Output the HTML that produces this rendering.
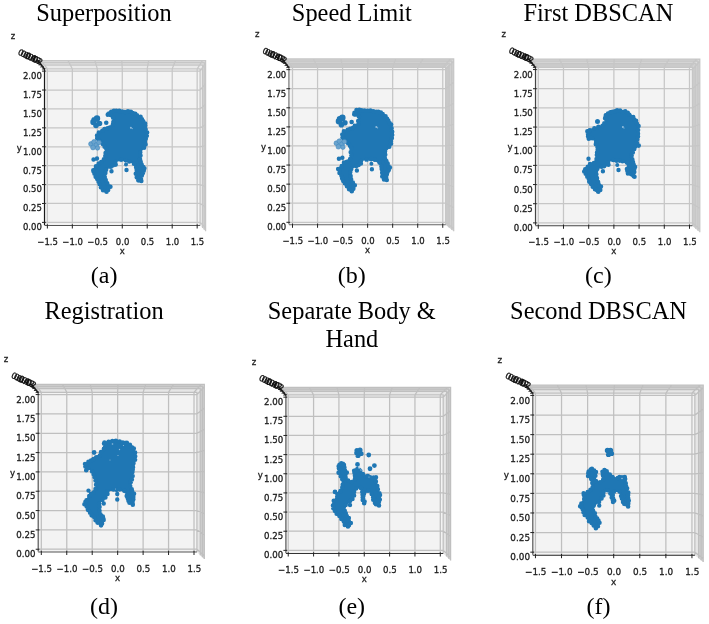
<!DOCTYPE html>
<html><head><meta charset="utf-8"><title>Point cloud processing stages</title>
<style>html,body{margin:0;padding:0;background:#fff;}svg{display:block;}</style></head>
<body>
<svg width="709" height="624" viewBox="0 0 709 624"><rect x="44.5" y="68.81" width="155.57" height="156.69" fill="#f3f3f3"/>
<polygon points="44.5,68.81 41.58,65.12 202.56,65.12 200.07,68.81" fill="#eaeaea"/>
<polygon points="200.07,68.81 202.56,65.12 202.56,228.06 200.07,225.5" fill="#eaeaea"/>
<polygon points="41.58,65.12 38,60.6 205.6,60.6 202.56,65.12" fill="#dcdcdc"/>
<polygon points="202.56,65.12 205.6,60.6 205.6,231.2 202.56,228.06" fill="#dcdcdc"/>
<path d="M47.36 225.5V68.81L41.08 60.6 M72.33 225.5V68.81L67.98 60.6 M97.3 225.5V68.81L94.88 60.6 M122.27 225.5V68.81L121.78 60.6 M147.23 225.5V68.81L148.68 60.6 M172.2 225.5V68.81L175.58 60.6 M197.17 225.5V68.81L202.48 60.6 M44.5 222.39H200.07L205.6 227.81 M44.5 203.48H200.07L205.6 207.23 M44.5 184.57H200.07L205.6 186.64 M44.5 165.66H200.07L205.6 166.05 M44.5 146.75H200.07L205.6 145.46 M44.5 127.84H200.07L205.6 124.87 M44.5 108.93H200.07L205.6 104.28 M44.5 90.02H200.07L205.6 83.69 M44.5 71.11H200.07L205.6 63.1 M44.5 68.81H200.07V225.5 M41.58 65.12H202.56V228.06 M39.62 62.65H204.22V229.77 M38 60.6H205.6V231.2" stroke="#c6c6c6" stroke-width="1.25" fill="none"/>
<rect x="288.9" y="67.35" width="156.75" height="157.45" fill="#f3f3f3"/>
<polygon points="288.9,67.35 285.84,63.55 449.27,63.55 445.65,67.35" fill="#c9c9c9"/>
<polygon points="445.65,67.35 449.27,63.55 449.27,227.73 445.65,224.8" fill="#c9c9c9"/>
<polygon points="285.84,63.55 282.1,58.9 453.7,58.9 449.27,63.55" fill="#d0d0d0"/>
<polygon points="449.27,63.55 453.7,58.9 453.7,231.3 449.27,227.73" fill="#d0d0d0"/>
<path d="M292.51 224.8V67.35L286.05 58.9 M317.55 224.8V67.35L313.46 58.9 M342.59 224.8V67.35L340.88 58.9 M367.63 224.8V67.35L368.29 58.9 M392.67 224.8V67.35L395.7 58.9 M417.71 224.8V67.35L423.11 58.9 M442.75 224.8V67.35L450.53 58.9 M288.9 222.31H445.65L453.7 228.57 M288.9 203.23H445.65L453.7 207.68 M288.9 184.15H445.65L453.7 186.78 M288.9 165.06H445.65L453.7 165.89 M288.9 145.98H445.65L453.7 145 M288.9 126.9H445.65L453.7 124.1 M288.9 107.81H445.65L453.7 103.21 M288.9 88.73H445.65L453.7 82.31 M288.9 69.65H445.65L453.7 61.42 M288.9 67.35H445.65V224.8 M285.84 63.55H449.27V227.73 M283.8 61.01H451.69V229.68 M282.1 58.9H453.7V231.3" stroke="#c6c6c6" stroke-width="1.25" fill="none"/>
<rect x="535.5" y="67.25" width="156.89" height="158.55" fill="#f3f3f3"/>
<polygon points="535.5,67.25 532.44,63.54 695.72,63.54 692.39,67.25" fill="#cbcbcb"/>
<polygon points="692.39,67.25 695.72,63.54 695.72,228.73 692.39,225.8" fill="#cbcbcb"/>
<polygon points="532.44,63.54 528.7,59 699.8,59 695.72,63.54" fill="#d4d4d4"/>
<polygon points="695.72,63.54 699.8,59 699.8,232.3 695.72,228.73" fill="#d4d4d4"/>
<path d="M538.29 225.8V67.25L531.74 59 M563.49 225.8V67.25L559.23 59 M588.69 225.8V67.25L586.71 59 M613.89 225.8V67.25L614.19 59 M639.09 225.8V67.25L641.67 59 M664.29 225.8V67.25L669.15 59 M689.49 225.8V67.25L696.64 59 M535.5 222.9H692.39L699.8 229.13 M535.5 203.73H692.39L699.8 208.18 M535.5 184.56H692.39L699.8 187.23 M535.5 165.39H692.39L699.8 166.27 M535.5 146.22H692.39L699.8 145.32 M535.5 127.06H692.39L699.8 124.37 M535.5 107.89H692.39L699.8 103.42 M535.5 88.72H692.39L699.8 82.47 M535.5 69.55H692.39L699.8 61.51 M535.5 67.25H692.39V225.8 M532.44 63.54H695.72V228.73 M530.4 61.06H697.95V230.68 M528.7 59H699.8V232.3" stroke="#c6c6c6" stroke-width="1.25" fill="none"/>
<rect x="38.2" y="392.28" width="158.71" height="159.72" fill="#f3f3f3"/>
<polygon points="38.2,392.28 35.14,388.73 200.24,388.73 196.91,392.28" fill="#e6e6e6"/>
<polygon points="196.91,392.28 200.24,388.73 200.24,555.15 196.91,552" fill="#e6e6e6"/>
<polygon points="35.14,388.73 31.4,384.4 204.3,384.4 200.24,388.73" fill="#cfcfcf"/>
<polygon points="200.24,388.73 204.3,384.4 204.3,559 200.24,555.15" fill="#cfcfcf"/>
<path d="M41.31 552V392.28L34.79 384.4 M66.76 552V392.28L62.51 384.4 M92.21 552V392.28L90.24 384.4 M117.66 552V392.28L117.96 384.4 M143.11 552V392.28L145.69 384.4 M168.56 552V392.28L173.42 384.4 M194.01 552V392.28L201.14 384.4 M38.2 549.24H196.91L204.3 555.98 M38.2 529.91H196.91L204.3 534.85 M38.2 510.57H196.91L204.3 513.72 M38.2 491.24H196.91L204.3 492.58 M38.2 471.91H196.91L204.3 471.45 M38.2 452.58H196.91L204.3 450.31 M38.2 433.25H196.91L204.3 429.18 M38.2 413.91H196.91L204.3 408.05 M38.2 394.58H196.91L204.3 386.91 M38.2 392.28H196.91V552 M35.14 388.73H200.24V555.15 M33.1 386.37H202.45V557.25 M31.4 384.4H204.3V559" stroke="#bfbfbf" stroke-width="1.25" fill="none"/>
<rect x="285.9" y="394.86" width="157.29" height="158.64" fill="#f3f3f3"/>
<polygon points="285.9,394.86 282.84,391.46 446.52,391.46 443.19,394.86" fill="#e6e6e6"/>
<polygon points="443.19,394.86 446.52,391.46 446.52,556.61 443.19,553.5" fill="#e6e6e6"/>
<polygon points="282.84,391.46 279.1,387.3 450.6,387.3 446.52,391.46" fill="#cfcfcf"/>
<polygon points="446.52,391.46 450.6,387.3 450.6,560.4 446.52,556.61" fill="#cfcfcf"/>
<path d="M288.24 553.5V394.86L281.65 387.3 M313.58 553.5V394.86L309.28 387.3 M338.92 553.5V394.86L336.91 387.3 M364.26 553.5V394.86L364.54 387.3 M389.61 553.5V394.86L392.18 387.3 M414.95 553.5V394.86L419.81 387.3 M440.29 553.5V394.86L447.44 387.3 M285.9 550.37H443.19L450.6 556.98 M285.9 531.22H443.19L450.6 536.09 M285.9 512.07H443.19L450.6 515.19 M285.9 492.92H443.19L450.6 494.29 M285.9 473.76H443.19L450.6 473.4 M285.9 454.61H443.19L450.6 452.5 M285.9 435.46H443.19L450.6 431.6 M285.9 416.31H443.19L450.6 410.71 M285.9 397.16H443.19L450.6 389.81 M285.9 394.86H443.19V553.5 M282.84 391.46H446.52V556.61 M280.8 389.19H448.75V558.67 M279.1 387.3H450.6V560.4" stroke="#bfbfbf" stroke-width="1.25" fill="none"/>
<rect x="532.8" y="393.12" width="162.05" height="162.08" fill="#f3f3f3"/>
<polygon points="532.8,393.12 529.74,389.56 698.61,389.56 694.85,393.12" fill="#e6e6e6"/>
<polygon points="694.85,393.12 698.61,389.56 698.61,558.26 694.85,555.2" fill="#e6e6e6"/>
<polygon points="529.74,389.56 526,385.2 703.2,385.2 698.61,389.56" fill="#cfcfcf"/>
<polygon points="698.61,389.56 703.2,385.2 703.2,562 698.61,558.26" fill="#cfcfcf"/>
<path d="M535.45 555.2V393.12L528.9 385.2 M561.53 555.2V393.12L557.42 385.2 M587.62 555.2V393.12L585.94 385.2 M613.7 555.2V393.12L614.46 385.2 M639.78 555.2V393.12L642.99 385.2 M665.87 555.2V393.12L671.51 385.2 M691.95 555.2V393.12L700.03 385.2 M532.8 552.16H694.85L703.2 558.68 M532.8 532.57H694.85L703.2 537.31 M532.8 512.98H694.85L703.2 515.94 M532.8 493.38H694.85L703.2 494.57 M532.8 473.79H694.85L703.2 473.2 M532.8 454.2H694.85L703.2 451.82 M532.8 434.61H694.85L703.2 430.45 M532.8 415.01H694.85L703.2 409.08 M532.8 395.42H694.85L703.2 387.71 M532.8 393.12H694.85V555.2 M529.74 389.56H698.61V558.26 M527.7 387.18H701.11V560.3 M526 385.2H703.2V562" stroke="#bfbfbf" stroke-width="1.25" fill="none"/>
<path d="M108.32 113.71 L109.1 112.75 L111.53 111.33 L116.55 110.59 L125.03 111.43 L133.4 112.64 L137.36 114.92 L140.22 117.22 L143.72 121.27 L145.98 125.75 L146.56 132.73 L145.92 138.81 L145.34 144.72 L143.72 147.72 L140.4 151.79 L139.68 159 L141.71 164.49 L144.07 168.94 L142.88 173.1 L140.43 177.98 L139.61 181.37 L137.79 179.94 L136.37 177 L135.83 169.82 L134.87 163.9 L129.51 161.33 L121.5 160.06 L116.56 161.1 L115.11 165.04 L110.8 167.05 L106.32 168.85 L105.27 176.43 L107.29 183.18 L109.66 187.39 L107.7 189.95 L105.25 191.91 L102.83 189.98 L99.36 184.11 L95.68 176.75 L93.31 170.9 L93.23 169.37 L95.96 166.24 L98.89 163.34 L104.11 159.99 L105.82 156.53 L105.24 152.57 L105.83 149.77 L102.98 144.16 L97.89 139.04 L96.39 137.31 L96.93 134.76 L98.99 132.26 L102.34 130.04 L107.28 128.16 L112.37 125.11 L113.84 118.41 L110.23 115.13 Z" fill="#1f77b4" stroke="#1f77b4" stroke-width="1.5" stroke-linejoin="round"/><path d="M105.49 114.65a2.3 2.3 0 1 0 4.6 0a2.3 2.3 0 1 0 -4.6 0M106.71 113.59a2.3 2.3 0 1 0 4.6 0a2.3 2.3 0 1 0 -4.6 0M108.95 111.9a2.3 2.3 0 1 0 4.6 0a2.3 2.3 0 1 0 -4.6 0M111.64 110.77a2.3 2.3 0 1 0 4.6 0a2.3 2.3 0 1 0 -4.6 0M114.01 110.69a2.3 2.3 0 1 0 4.6 0a2.3 2.3 0 1 0 -4.6 0M116.93 110.91a2.3 2.3 0 1 0 4.6 0a2.3 2.3 0 1 0 -4.6 0M119.82 111.47a2.3 2.3 0 1 0 4.6 0a2.3 2.3 0 1 0 -4.6 0M122.6 111.93a2.3 2.3 0 1 0 4.6 0a2.3 2.3 0 1 0 -4.6 0M125.66 111.4a2.3 2.3 0 1 0 4.6 0a2.3 2.3 0 1 0 -4.6 0M128.59 111.75a2.3 2.3 0 1 0 4.6 0a2.3 2.3 0 1 0 -4.6 0M130.5 113.01a2.3 2.3 0 1 0 4.6 0a2.3 2.3 0 1 0 -4.6 0M132.98 113.77a2.3 2.3 0 1 0 4.6 0a2.3 2.3 0 1 0 -4.6 0M134.64 115.21a2.3 2.3 0 1 0 4.6 0a2.3 2.3 0 1 0 -4.6 0M138.25 116.72a2.3 2.3 0 1 0 4.6 0a2.3 2.3 0 1 0 -4.6 0M139.65 119.3a2.3 2.3 0 1 0 4.6 0a2.3 2.3 0 1 0 -4.6 0M140.92 121.26a2.3 2.3 0 1 0 4.6 0a2.3 2.3 0 1 0 -4.6 0M142.79 123.45a2.3 2.3 0 1 0 4.6 0a2.3 2.3 0 1 0 -4.6 0M142.88 125.47a2.3 2.3 0 1 0 4.6 0a2.3 2.3 0 1 0 -4.6 0M143.27 129.22a2.3 2.3 0 1 0 4.6 0a2.3 2.3 0 1 0 -4.6 0M144.81 132.62a2.3 2.3 0 1 0 4.6 0a2.3 2.3 0 1 0 -4.6 0M144.49 135.74a2.3 2.3 0 1 0 4.6 0a2.3 2.3 0 1 0 -4.6 0M143.45 138.79a2.3 2.3 0 1 0 4.6 0a2.3 2.3 0 1 0 -4.6 0M142.57 141.86a2.3 2.3 0 1 0 4.6 0a2.3 2.3 0 1 0 -4.6 0M143.22 144.41a2.3 2.3 0 1 0 4.6 0a2.3 2.3 0 1 0 -4.6 0M141.76 147.75a2.3 2.3 0 1 0 4.6 0a2.3 2.3 0 1 0 -4.6 0M137.96 152.32a2.3 2.3 0 1 0 4.6 0a2.3 2.3 0 1 0 -4.6 0M138.21 155.5a2.3 2.3 0 1 0 4.6 0a2.3 2.3 0 1 0 -4.6 0M137.74 159.31a2.3 2.3 0 1 0 4.6 0a2.3 2.3 0 1 0 -4.6 0M138.4 161.91a2.3 2.3 0 1 0 4.6 0a2.3 2.3 0 1 0 -4.6 0M139.36 164.62a2.3 2.3 0 1 0 4.6 0a2.3 2.3 0 1 0 -4.6 0M140.94 166.96a2.3 2.3 0 1 0 4.6 0a2.3 2.3 0 1 0 -4.6 0M142.07 168.35a2.3 2.3 0 1 0 4.6 0a2.3 2.3 0 1 0 -4.6 0M141.44 170.86a2.3 2.3 0 1 0 4.6 0a2.3 2.3 0 1 0 -4.6 0M140.6 172.9a2.3 2.3 0 1 0 4.6 0a2.3 2.3 0 1 0 -4.6 0M139.56 175.51a2.3 2.3 0 1 0 4.6 0a2.3 2.3 0 1 0 -4.6 0M138.62 178.25a2.3 2.3 0 1 0 4.6 0a2.3 2.3 0 1 0 -4.6 0M139.02 180.92a2.3 2.3 0 1 0 4.6 0a2.3 2.3 0 1 0 -4.6 0M136.01 180.33a2.3 2.3 0 1 0 4.6 0a2.3 2.3 0 1 0 -4.6 0M134.45 177.33a2.3 2.3 0 1 0 4.6 0a2.3 2.3 0 1 0 -4.6 0M133.51 173.63a2.3 2.3 0 1 0 4.6 0a2.3 2.3 0 1 0 -4.6 0M134.33 169.68a2.3 2.3 0 1 0 4.6 0a2.3 2.3 0 1 0 -4.6 0M133.84 167.21a2.3 2.3 0 1 0 4.6 0a2.3 2.3 0 1 0 -4.6 0M131.66 163.69a2.3 2.3 0 1 0 4.6 0a2.3 2.3 0 1 0 -4.6 0M126.97 161.4a2.3 2.3 0 1 0 4.6 0a2.3 2.3 0 1 0 -4.6 0M123.31 160.26a2.3 2.3 0 1 0 4.6 0a2.3 2.3 0 1 0 -4.6 0M118.84 159.68a2.3 2.3 0 1 0 4.6 0a2.3 2.3 0 1 0 -4.6 0M113.02 161.69a2.3 2.3 0 1 0 4.6 0a2.3 2.3 0 1 0 -4.6 0M113.37 164.6a2.3 2.3 0 1 0 4.6 0a2.3 2.3 0 1 0 -4.6 0M110.62 165.34a2.3 2.3 0 1 0 4.6 0a2.3 2.3 0 1 0 -4.6 0M108.51 166.67a2.3 2.3 0 1 0 4.6 0a2.3 2.3 0 1 0 -4.6 0M103.78 169.83a2.3 2.3 0 1 0 4.6 0a2.3 2.3 0 1 0 -4.6 0M103.06 172.91a2.3 2.3 0 1 0 4.6 0a2.3 2.3 0 1 0 -4.6 0M102.42 176.97a2.3 2.3 0 1 0 4.6 0a2.3 2.3 0 1 0 -4.6 0M103.42 180.08a2.3 2.3 0 1 0 4.6 0a2.3 2.3 0 1 0 -4.6 0M104.94 183.38a2.3 2.3 0 1 0 4.6 0a2.3 2.3 0 1 0 -4.6 0M106.09 185.93a2.3 2.3 0 1 0 4.6 0a2.3 2.3 0 1 0 -4.6 0M108.12 186.78a2.3 2.3 0 1 0 4.6 0a2.3 2.3 0 1 0 -4.6 0M105.82 189.92a2.3 2.3 0 1 0 4.6 0a2.3 2.3 0 1 0 -4.6 0M104.27 191.78a2.3 2.3 0 1 0 4.6 0a2.3 2.3 0 1 0 -4.6 0M100.77 190.31a2.3 2.3 0 1 0 4.6 0a2.3 2.3 0 1 0 -4.6 0M98.61 187.35a2.3 2.3 0 1 0 4.6 0a2.3 2.3 0 1 0 -4.6 0M97.26 184.1a2.3 2.3 0 1 0 4.6 0a2.3 2.3 0 1 0 -4.6 0M96.2 181.5a2.3 2.3 0 1 0 4.6 0a2.3 2.3 0 1 0 -4.6 0M94.92 179.02a2.3 2.3 0 1 0 4.6 0a2.3 2.3 0 1 0 -4.6 0M93.35 176.84a2.3 2.3 0 1 0 4.6 0a2.3 2.3 0 1 0 -4.6 0M92.19 173.68a2.3 2.3 0 1 0 4.6 0a2.3 2.3 0 1 0 -4.6 0M91.17 171.25a2.3 2.3 0 1 0 4.6 0a2.3 2.3 0 1 0 -4.6 0M91.01 170.24a2.3 2.3 0 1 0 4.6 0a2.3 2.3 0 1 0 -4.6 0M93.69 166.41a2.3 2.3 0 1 0 4.6 0a2.3 2.3 0 1 0 -4.6 0M96.41 163.43a2.3 2.3 0 1 0 4.6 0a2.3 2.3 0 1 0 -4.6 0M98.98 161.97a2.3 2.3 0 1 0 4.6 0a2.3 2.3 0 1 0 -4.6 0M101.61 159.33a2.3 2.3 0 1 0 4.6 0a2.3 2.3 0 1 0 -4.6 0M103 156.04a2.3 2.3 0 1 0 4.6 0a2.3 2.3 0 1 0 -4.6 0M103.28 153.02a2.3 2.3 0 1 0 4.6 0a2.3 2.3 0 1 0 -4.6 0M104.03 148.77a2.3 2.3 0 1 0 4.6 0a2.3 2.3 0 1 0 -4.6 0M102.3 146.65a2.3 2.3 0 1 0 4.6 0a2.3 2.3 0 1 0 -4.6 0M100.48 143.97a2.3 2.3 0 1 0 4.6 0a2.3 2.3 0 1 0 -4.6 0M97.76 141.69a2.3 2.3 0 1 0 4.6 0a2.3 2.3 0 1 0 -4.6 0M95.76 139.07a2.3 2.3 0 1 0 4.6 0a2.3 2.3 0 1 0 -4.6 0M94.89 138.2a2.3 2.3 0 1 0 4.6 0a2.3 2.3 0 1 0 -4.6 0M94.77 135.47a2.3 2.3 0 1 0 4.6 0a2.3 2.3 0 1 0 -4.6 0M96.57 132.57a2.3 2.3 0 1 0 4.6 0a2.3 2.3 0 1 0 -4.6 0M100.07 130.7a2.3 2.3 0 1 0 4.6 0a2.3 2.3 0 1 0 -4.6 0M102.26 128.93a2.3 2.3 0 1 0 4.6 0a2.3 2.3 0 1 0 -4.6 0M105.18 128.22a2.3 2.3 0 1 0 4.6 0a2.3 2.3 0 1 0 -4.6 0M107.68 127.5a2.3 2.3 0 1 0 4.6 0a2.3 2.3 0 1 0 -4.6 0M110.61 124.48a2.3 2.3 0 1 0 4.6 0a2.3 2.3 0 1 0 -4.6 0M111.05 121.94a2.3 2.3 0 1 0 4.6 0a2.3 2.3 0 1 0 -4.6 0M110.82 117.73a2.3 2.3 0 1 0 4.6 0a2.3 2.3 0 1 0 -4.6 0M108.13 115.07a2.3 2.3 0 1 0 4.6 0a2.3 2.3 0 1 0 -4.6 0M90.3 122a3.2 3.2 0 1 0 6.4 0a3.2 3.2 0 1 0 -6.4 0M93.8 118.5a3.2 3.2 0 1 0 6.4 0a3.2 3.2 0 1 0 -6.4 0M96.7 123.5a2.8 2.8 0 1 0 5.6 0a2.8 2.8 0 1 0 -5.6 0M93.2 125.5a2.8 2.8 0 1 0 5.6 0a2.8 2.8 0 1 0 -5.6 0M91.4 119.5a2.6 2.6 0 1 0 5.2 0a2.6 2.6 0 1 0 -5.2 0M103.95 122.75a2.3 2.3 0 1 0 4.6 0a2.3 2.3 0 1 0 -4.6 0M109.3 171.25a2.2 2.2 0 1 0 4.4 0a2.2 2.2 0 1 0 -4.4 0M124.3 170a2.2 2.2 0 1 0 4.4 0a2.2 2.2 0 1 0 -4.4 0M124 164.5a2 2 0 1 0 4 0a2 2 0 1 0 -4 0M91.3 159.5a2.2 2.2 0 1 0 4.4 0a2.2 2.2 0 1 0 -4.4 0M94.8 158.5a2.2 2.2 0 1 0 4.4 0a2.2 2.2 0 1 0 -4.4 0" fill="#1f77b4"/><circle cx="91" cy="144" r="2.4" fill="#6aa3cd" stroke="#3f88bf" stroke-width="0.6"/><circle cx="94" cy="142" r="2.4" fill="#6aa3cd" stroke="#3f88bf" stroke-width="0.6"/><circle cx="96.5" cy="145" r="2.4" fill="#6aa3cd" stroke="#3f88bf" stroke-width="0.6"/><circle cx="93" cy="147.5" r="2.4" fill="#6aa3cd" stroke="#3f88bf" stroke-width="0.6"/><circle cx="99" cy="142.5" r="2.3" fill="#6aa3cd" stroke="#3f88bf" stroke-width="0.6"/><circle cx="97.5" cy="148" r="2.2" fill="#6aa3cd" stroke="#3f88bf" stroke-width="0.6"/><circle cx="130.9" cy="127.75" r="1" fill="#b9d3e8" fill-opacity="0.75"/><circle cx="132.2" cy="128.6" r="0.6" fill="#b9d3e8" fill-opacity="0.75"/><circle cx="121" cy="162.5" r="0.5" fill="#b9d3e8" fill-opacity="0.75"/>
<path d="M353.72 112.91 L354.5 111.95 L356.93 110.53 L361.95 109.79 L370.43 110.63 L378.8 111.84 L382.76 114.12 L385.62 116.42 L389.12 120.47 L391.38 124.95 L391.96 131.93 L391.32 138.01 L390.74 143.92 L389.12 146.92 L385.8 150.99 L385.08 158.2 L387.11 163.69 L389.47 168.14 L388.28 172.3 L385.83 177.18 L385.01 180.57 L383.19 179.14 L381.77 176.2 L381.23 169.02 L380.27 163.1 L374.91 160.53 L366.9 159.26 L361.96 160.3 L360.51 164.24 L356.2 166.25 L351.72 168.05 L350.67 175.63 L352.69 182.38 L355.06 186.59 L353.1 189.15 L350.65 191.11 L348.23 189.18 L344.76 183.31 L341.08 175.95 L338.71 170.1 L338.63 168.57 L341.36 165.44 L344.29 162.54 L349.51 159.19 L351.22 155.73 L350.64 151.77 L351.23 148.97 L348.38 143.36 L343.29 138.24 L341.79 136.51 L342.33 133.96 L344.39 131.46 L347.74 129.24 L352.68 127.36 L357.77 124.31 L359.24 117.61 L355.63 114.33 Z" fill="#1f77b4" stroke="#1f77b4" stroke-width="1.5" stroke-linejoin="round"/><path d="M351.92 114.36a2.3 2.3 0 1 0 4.6 0a2.3 2.3 0 1 0 -4.6 0M352.18 112.91a2.3 2.3 0 1 0 4.6 0a2.3 2.3 0 1 0 -4.6 0M354.2 110.12a2.3 2.3 0 1 0 4.6 0a2.3 2.3 0 1 0 -4.6 0M357.01 109.73a2.3 2.3 0 1 0 4.6 0a2.3 2.3 0 1 0 -4.6 0M359.37 110.36a2.3 2.3 0 1 0 4.6 0a2.3 2.3 0 1 0 -4.6 0M362.3 110.51a2.3 2.3 0 1 0 4.6 0a2.3 2.3 0 1 0 -4.6 0M365.22 110.7a2.3 2.3 0 1 0 4.6 0a2.3 2.3 0 1 0 -4.6 0M368.1 110.47a2.3 2.3 0 1 0 4.6 0a2.3 2.3 0 1 0 -4.6 0M370.96 111.31a2.3 2.3 0 1 0 4.6 0a2.3 2.3 0 1 0 -4.6 0M373.87 111.75a2.3 2.3 0 1 0 4.6 0a2.3 2.3 0 1 0 -4.6 0M376.08 111.9a2.3 2.3 0 1 0 4.6 0a2.3 2.3 0 1 0 -4.6 0M378.57 112.63a2.3 2.3 0 1 0 4.6 0a2.3 2.3 0 1 0 -4.6 0M380.33 114.05a2.3 2.3 0 1 0 4.6 0a2.3 2.3 0 1 0 -4.6 0M383.23 116.28a2.3 2.3 0 1 0 4.6 0a2.3 2.3 0 1 0 -4.6 0M384.76 118.76a2.3 2.3 0 1 0 4.6 0a2.3 2.3 0 1 0 -4.6 0M385.98 120.63a2.3 2.3 0 1 0 4.6 0a2.3 2.3 0 1 0 -4.6 0M387.29 123.11a2.3 2.3 0 1 0 4.6 0a2.3 2.3 0 1 0 -4.6 0M388.84 124.62a2.3 2.3 0 1 0 4.6 0a2.3 2.3 0 1 0 -4.6 0M389.3 128.36a2.3 2.3 0 1 0 4.6 0a2.3 2.3 0 1 0 -4.6 0M389.88 131.78a2.3 2.3 0 1 0 4.6 0a2.3 2.3 0 1 0 -4.6 0M389.88 134.94a2.3 2.3 0 1 0 4.6 0a2.3 2.3 0 1 0 -4.6 0M389.56 138.07a2.3 2.3 0 1 0 4.6 0a2.3 2.3 0 1 0 -4.6 0M388.63 141.13a2.3 2.3 0 1 0 4.6 0a2.3 2.3 0 1 0 -4.6 0M388.7 143.66a2.3 2.3 0 1 0 4.6 0a2.3 2.3 0 1 0 -4.6 0M386.98 146.8a2.3 2.3 0 1 0 4.6 0a2.3 2.3 0 1 0 -4.6 0M382.71 151.46a2.3 2.3 0 1 0 4.6 0a2.3 2.3 0 1 0 -4.6 0M382.92 154.63a2.3 2.3 0 1 0 4.6 0a2.3 2.3 0 1 0 -4.6 0M382.69 158.67a2.3 2.3 0 1 0 4.6 0a2.3 2.3 0 1 0 -4.6 0M384.07 161.01a2.3 2.3 0 1 0 4.6 0a2.3 2.3 0 1 0 -4.6 0M385.35 163.53a2.3 2.3 0 1 0 4.6 0a2.3 2.3 0 1 0 -4.6 0M386.22 166.21a2.3 2.3 0 1 0 4.6 0a2.3 2.3 0 1 0 -4.6 0M387.6 167.59a2.3 2.3 0 1 0 4.6 0a2.3 2.3 0 1 0 -4.6 0M386.44 169.95a2.3 2.3 0 1 0 4.6 0a2.3 2.3 0 1 0 -4.6 0M385.33 171.76a2.3 2.3 0 1 0 4.6 0a2.3 2.3 0 1 0 -4.6 0M384.48 174.47a2.3 2.3 0 1 0 4.6 0a2.3 2.3 0 1 0 -4.6 0M383.81 177.36a2.3 2.3 0 1 0 4.6 0a2.3 2.3 0 1 0 -4.6 0M384.46 180.05a2.3 2.3 0 1 0 4.6 0a2.3 2.3 0 1 0 -4.6 0M381.71 179.38a2.3 2.3 0 1 0 4.6 0a2.3 2.3 0 1 0 -4.6 0M379.98 176.52a2.3 2.3 0 1 0 4.6 0a2.3 2.3 0 1 0 -4.6 0M379.92 172.75a2.3 2.3 0 1 0 4.6 0a2.3 2.3 0 1 0 -4.6 0M379.41 168.92a2.3 2.3 0 1 0 4.6 0a2.3 2.3 0 1 0 -4.6 0M379.14 166.42a2.3 2.3 0 1 0 4.6 0a2.3 2.3 0 1 0 -4.6 0M377.19 162.59a2.3 2.3 0 1 0 4.6 0a2.3 2.3 0 1 0 -4.6 0M372.52 159.7a2.3 2.3 0 1 0 4.6 0a2.3 2.3 0 1 0 -4.6 0M368.76 159.13a2.3 2.3 0 1 0 4.6 0a2.3 2.3 0 1 0 -4.6 0M364.37 159.64a2.3 2.3 0 1 0 4.6 0a2.3 2.3 0 1 0 -4.6 0M358.66 160.97a2.3 2.3 0 1 0 4.6 0a2.3 2.3 0 1 0 -4.6 0M358.59 163.43a2.3 2.3 0 1 0 4.6 0a2.3 2.3 0 1 0 -4.6 0M356.25 165a2.3 2.3 0 1 0 4.6 0a2.3 2.3 0 1 0 -4.6 0M353.97 166.06a2.3 2.3 0 1 0 4.6 0a2.3 2.3 0 1 0 -4.6 0M348.92 169a2.3 2.3 0 1 0 4.6 0a2.3 2.3 0 1 0 -4.6 0M347.99 172.06a2.3 2.3 0 1 0 4.6 0a2.3 2.3 0 1 0 -4.6 0M348.33 176.02a2.3 2.3 0 1 0 4.6 0a2.3 2.3 0 1 0 -4.6 0M348.84 179.28a2.3 2.3 0 1 0 4.6 0a2.3 2.3 0 1 0 -4.6 0M350.53 182.48a2.3 2.3 0 1 0 4.6 0a2.3 2.3 0 1 0 -4.6 0M351.12 185.31a2.3 2.3 0 1 0 4.6 0a2.3 2.3 0 1 0 -4.6 0M352.51 185.31a2.3 2.3 0 1 0 4.6 0a2.3 2.3 0 1 0 -4.6 0M351.05 188.87a2.3 2.3 0 1 0 4.6 0a2.3 2.3 0 1 0 -4.6 0M349.49 191.24a2.3 2.3 0 1 0 4.6 0a2.3 2.3 0 1 0 -4.6 0M346.78 189.14a2.3 2.3 0 1 0 4.6 0a2.3 2.3 0 1 0 -4.6 0M344.67 186.16a2.3 2.3 0 1 0 4.6 0a2.3 2.3 0 1 0 -4.6 0M342.58 183.33a2.3 2.3 0 1 0 4.6 0a2.3 2.3 0 1 0 -4.6 0M341 181a2.3 2.3 0 1 0 4.6 0a2.3 2.3 0 1 0 -4.6 0M339.88 178.44a2.3 2.3 0 1 0 4.6 0a2.3 2.3 0 1 0 -4.6 0M339.17 175.87a2.3 2.3 0 1 0 4.6 0a2.3 2.3 0 1 0 -4.6 0M337.23 173.02a2.3 2.3 0 1 0 4.6 0a2.3 2.3 0 1 0 -4.6 0M337.13 170.45a2.3 2.3 0 1 0 4.6 0a2.3 2.3 0 1 0 -4.6 0M335.86 168.99a2.3 2.3 0 1 0 4.6 0a2.3 2.3 0 1 0 -4.6 0M339.48 166a2.3 2.3 0 1 0 4.6 0a2.3 2.3 0 1 0 -4.6 0M341.75 162.53a2.3 2.3 0 1 0 4.6 0a2.3 2.3 0 1 0 -4.6 0M344.73 161.72a2.3 2.3 0 1 0 4.6 0a2.3 2.3 0 1 0 -4.6 0M347.86 158.95a2.3 2.3 0 1 0 4.6 0a2.3 2.3 0 1 0 -4.6 0M349.04 155.14a2.3 2.3 0 1 0 4.6 0a2.3 2.3 0 1 0 -4.6 0M348.43 152.16a2.3 2.3 0 1 0 4.6 0a2.3 2.3 0 1 0 -4.6 0M349.02 148.19a2.3 2.3 0 1 0 4.6 0a2.3 2.3 0 1 0 -4.6 0M347.69 145.86a2.3 2.3 0 1 0 4.6 0a2.3 2.3 0 1 0 -4.6 0M345.8 143.25a2.3 2.3 0 1 0 4.6 0a2.3 2.3 0 1 0 -4.6 0M343.19 140.86a2.3 2.3 0 1 0 4.6 0a2.3 2.3 0 1 0 -4.6 0M341.17 138.26a2.3 2.3 0 1 0 4.6 0a2.3 2.3 0 1 0 -4.6 0M340.23 137.39a2.3 2.3 0 1 0 4.6 0a2.3 2.3 0 1 0 -4.6 0M340.01 134.54a2.3 2.3 0 1 0 4.6 0a2.3 2.3 0 1 0 -4.6 0M341.6 131.23a2.3 2.3 0 1 0 4.6 0a2.3 2.3 0 1 0 -4.6 0M345.45 129.85a2.3 2.3 0 1 0 4.6 0a2.3 2.3 0 1 0 -4.6 0M347.91 128.77a2.3 2.3 0 1 0 4.6 0a2.3 2.3 0 1 0 -4.6 0M350.85 127.9a2.3 2.3 0 1 0 4.6 0a2.3 2.3 0 1 0 -4.6 0M352.55 125.77a2.3 2.3 0 1 0 4.6 0a2.3 2.3 0 1 0 -4.6 0M356.23 123.74a2.3 2.3 0 1 0 4.6 0a2.3 2.3 0 1 0 -4.6 0M355.9 121.01a2.3 2.3 0 1 0 4.6 0a2.3 2.3 0 1 0 -4.6 0M356.56 116.51a2.3 2.3 0 1 0 4.6 0a2.3 2.3 0 1 0 -4.6 0M353.26 114.54a2.3 2.3 0 1 0 4.6 0a2.3 2.3 0 1 0 -4.6 0M335.7 121.2a3.2 3.2 0 1 0 6.4 0a3.2 3.2 0 1 0 -6.4 0M339.2 117.7a3.2 3.2 0 1 0 6.4 0a3.2 3.2 0 1 0 -6.4 0M342.1 122.7a2.8 2.8 0 1 0 5.6 0a2.8 2.8 0 1 0 -5.6 0M338.6 124.7a2.8 2.8 0 1 0 5.6 0a2.8 2.8 0 1 0 -5.6 0M336.8 118.7a2.6 2.6 0 1 0 5.2 0a2.6 2.6 0 1 0 -5.2 0M349.35 121.95a2.3 2.3 0 1 0 4.6 0a2.3 2.3 0 1 0 -4.6 0M354.7 170.45a2.2 2.2 0 1 0 4.4 0a2.2 2.2 0 1 0 -4.4 0M369.7 169.2a2.2 2.2 0 1 0 4.4 0a2.2 2.2 0 1 0 -4.4 0M369.4 163.7a2 2 0 1 0 4 0a2 2 0 1 0 -4 0M336.7 158.7a2.2 2.2 0 1 0 4.4 0a2.2 2.2 0 1 0 -4.4 0M340.2 157.7a2.2 2.2 0 1 0 4.4 0a2.2 2.2 0 1 0 -4.4 0" fill="#1f77b4"/><circle cx="336.4" cy="143.2" r="2.4" fill="#6aa3cd" stroke="#3f88bf" stroke-width="0.6"/><circle cx="339.4" cy="141.2" r="2.4" fill="#6aa3cd" stroke="#3f88bf" stroke-width="0.6"/><circle cx="341.9" cy="144.2" r="2.4" fill="#6aa3cd" stroke="#3f88bf" stroke-width="0.6"/><circle cx="338.4" cy="146.7" r="2.4" fill="#6aa3cd" stroke="#3f88bf" stroke-width="0.6"/><circle cx="344.4" cy="141.7" r="2.3" fill="#6aa3cd" stroke="#3f88bf" stroke-width="0.6"/><circle cx="342.9" cy="147.2" r="2.2" fill="#6aa3cd" stroke="#3f88bf" stroke-width="0.6"/><circle cx="376.3" cy="126.95" r="1" fill="#b9d3e8" fill-opacity="0.75"/><circle cx="377.6" cy="127.8" r="0.6" fill="#b9d3e8" fill-opacity="0.75"/><circle cx="366.4" cy="161.7" r="0.5" fill="#b9d3e8" fill-opacity="0.75"/>
<path d="M606.27 115.04 L608.24 113.3 L612.73 111.38 L617.26 110.84 L625.44 111.75 L629.96 114.27 L633.4 117.15 L636.28 121.12 L638.2 126.27 L638.56 133.91 L637.29 142.4 L637.04 146.12 L636.67 145.75 L632.33 151.99 L632.29 159.08 L634.27 164.37 L635.41 167.57 L634.21 172.05 L633.24 176.44 L632.97 176.91 L630.89 174.81 L628.15 172.76 L627.24 168.68 L627.64 164.16 L622.8 161.34 L613.48 160.06 L608.46 161.19 L607.66 165.11 L604.16 166.36 L598.47 168.08 L596.66 173.72 L598.65 181.82 L601.06 187.42 L599.67 189.98 L596.77 191.92 L594.27 189.37 L590.69 184.07 L587.08 176.75 L584.73 171.05 L585.14 168.34 L587.71 165.87 L593.36 162.72 L596.38 159.6 L597.23 155.16 L597.24 149.88 L596.48 144.36 L595.73 143.14 L593.27 138.07 L588.2 138.02 L587.37 136 L587.23 133.19 L587.79 130.68 L589.92 129.39 L594.43 128.39 L598.47 127.35 L602.15 125.88 L604.63 123.76 L606.44 120.04 L605.24 117.43 Z" fill="#1f77b4" stroke="#1f77b4" stroke-width="1.5" stroke-linejoin="round"/><path d="M603.51 115.18a2.3 2.3 0 1 0 4.6 0a2.3 2.3 0 1 0 -4.6 0M605.75 113.6a2.3 2.3 0 1 0 4.6 0a2.3 2.3 0 1 0 -4.6 0M608.15 112.3a2.3 2.3 0 1 0 4.6 0a2.3 2.3 0 1 0 -4.6 0M610.2 111.69a2.3 2.3 0 1 0 4.6 0a2.3 2.3 0 1 0 -4.6 0M612.7 111.42a2.3 2.3 0 1 0 4.6 0a2.3 2.3 0 1 0 -4.6 0M614.8 110.34a2.3 2.3 0 1 0 4.6 0a2.3 2.3 0 1 0 -4.6 0M617.72 110.6a2.3 2.3 0 1 0 4.6 0a2.3 2.3 0 1 0 -4.6 0M620.51 112.08a2.3 2.3 0 1 0 4.6 0a2.3 2.3 0 1 0 -4.6 0M622.92 111.42a2.3 2.3 0 1 0 4.6 0a2.3 2.3 0 1 0 -4.6 0M625.44 112.76a2.3 2.3 0 1 0 4.6 0a2.3 2.3 0 1 0 -4.6 0M627 114.78a2.3 2.3 0 1 0 4.6 0a2.3 2.3 0 1 0 -4.6 0M630.9 117.02a2.3 2.3 0 1 0 4.6 0a2.3 2.3 0 1 0 -4.6 0M632.06 119.5a2.3 2.3 0 1 0 4.6 0a2.3 2.3 0 1 0 -4.6 0M633.8 120.92a2.3 2.3 0 1 0 4.6 0a2.3 2.3 0 1 0 -4.6 0M634.63 123.82a2.3 2.3 0 1 0 4.6 0a2.3 2.3 0 1 0 -4.6 0M636.24 125.97a2.3 2.3 0 1 0 4.6 0a2.3 2.3 0 1 0 -4.6 0M635.76 130.06a2.3 2.3 0 1 0 4.6 0a2.3 2.3 0 1 0 -4.6 0M635.66 133.64a2.3 2.3 0 1 0 4.6 0a2.3 2.3 0 1 0 -4.6 0M635.7 136.62a2.3 2.3 0 1 0 4.6 0a2.3 2.3 0 1 0 -4.6 0M634.97 139.5a2.3 2.3 0 1 0 4.6 0a2.3 2.3 0 1 0 -4.6 0M634.67 142.24a2.3 2.3 0 1 0 4.6 0a2.3 2.3 0 1 0 -4.6 0M634.89 144.94a2.3 2.3 0 1 0 4.6 0a2.3 2.3 0 1 0 -4.6 0M636.43 145.59a2.3 2.3 0 1 0 4.6 0a2.3 2.3 0 1 0 -4.6 0M633.19 146.39a2.3 2.3 0 1 0 4.6 0a2.3 2.3 0 1 0 -4.6 0M631.96 149.11a2.3 2.3 0 1 0 4.6 0a2.3 2.3 0 1 0 -4.6 0M630.5 152.5a2.3 2.3 0 1 0 4.6 0a2.3 2.3 0 1 0 -4.6 0M629.33 155.62a2.3 2.3 0 1 0 4.6 0a2.3 2.3 0 1 0 -4.6 0M630.01 159.43a2.3 2.3 0 1 0 4.6 0a2.3 2.3 0 1 0 -4.6 0M630.64 162.05a2.3 2.3 0 1 0 4.6 0a2.3 2.3 0 1 0 -4.6 0M631.34 164.54a2.3 2.3 0 1 0 4.6 0a2.3 2.3 0 1 0 -4.6 0M632.76 166.95a2.3 2.3 0 1 0 4.6 0a2.3 2.3 0 1 0 -4.6 0M631.86 169.38a2.3 2.3 0 1 0 4.6 0a2.3 2.3 0 1 0 -4.6 0M631.95 172.06a2.3 2.3 0 1 0 4.6 0a2.3 2.3 0 1 0 -4.6 0M630.77 174.42a2.3 2.3 0 1 0 4.6 0a2.3 2.3 0 1 0 -4.6 0M631.4 175.94a2.3 2.3 0 1 0 4.6 0a2.3 2.3 0 1 0 -4.6 0M632.19 176.74a2.3 2.3 0 1 0 4.6 0a2.3 2.3 0 1 0 -4.6 0M629 174.3a2.3 2.3 0 1 0 4.6 0a2.3 2.3 0 1 0 -4.6 0M625.65 173.43a2.3 2.3 0 1 0 4.6 0a2.3 2.3 0 1 0 -4.6 0M625.11 170.91a2.3 2.3 0 1 0 4.6 0a2.3 2.3 0 1 0 -4.6 0M624.64 169a2.3 2.3 0 1 0 4.6 0a2.3 2.3 0 1 0 -4.6 0M624.88 162.67a2.3 2.3 0 1 0 4.6 0a2.3 2.3 0 1 0 -4.6 0M620.2 161.25a2.3 2.3 0 1 0 4.6 0a2.3 2.3 0 1 0 -4.6 0M617.32 160.59a2.3 2.3 0 1 0 4.6 0a2.3 2.3 0 1 0 -4.6 0M614.34 160.64a2.3 2.3 0 1 0 4.6 0a2.3 2.3 0 1 0 -4.6 0M610.89 159.96a2.3 2.3 0 1 0 4.6 0a2.3 2.3 0 1 0 -4.6 0M605.68 162.19a2.3 2.3 0 1 0 4.6 0a2.3 2.3 0 1 0 -4.6 0M606.12 164.64a2.3 2.3 0 1 0 4.6 0a2.3 2.3 0 1 0 -4.6 0M601.93 166.09a2.3 2.3 0 1 0 4.6 0a2.3 2.3 0 1 0 -4.6 0M599.43 166.74a2.3 2.3 0 1 0 4.6 0a2.3 2.3 0 1 0 -4.6 0M595.03 168.7a2.3 2.3 0 1 0 4.6 0a2.3 2.3 0 1 0 -4.6 0M594.06 174.29a2.3 2.3 0 1 0 4.6 0a2.3 2.3 0 1 0 -4.6 0M594.67 178.13a2.3 2.3 0 1 0 4.6 0a2.3 2.3 0 1 0 -4.6 0M595.82 182.16a2.3 2.3 0 1 0 4.6 0a2.3 2.3 0 1 0 -4.6 0M596.9 185.36a2.3 2.3 0 1 0 4.6 0a2.3 2.3 0 1 0 -4.6 0M598.64 186.51a2.3 2.3 0 1 0 4.6 0a2.3 2.3 0 1 0 -4.6 0M597.97 189.96a2.3 2.3 0 1 0 4.6 0a2.3 2.3 0 1 0 -4.6 0M595.28 190.36a2.3 2.3 0 1 0 4.6 0a2.3 2.3 0 1 0 -4.6 0M595.99 191.77a2.3 2.3 0 1 0 4.6 0a2.3 2.3 0 1 0 -4.6 0M592.69 189.18a2.3 2.3 0 1 0 4.6 0a2.3 2.3 0 1 0 -4.6 0M590.4 186.65a2.3 2.3 0 1 0 4.6 0a2.3 2.3 0 1 0 -4.6 0M588.82 184a2.3 2.3 0 1 0 4.6 0a2.3 2.3 0 1 0 -4.6 0M586.96 181.81a2.3 2.3 0 1 0 4.6 0a2.3 2.3 0 1 0 -4.6 0M586.5 178.93a2.3 2.3 0 1 0 4.6 0a2.3 2.3 0 1 0 -4.6 0M585.01 176.74a2.3 2.3 0 1 0 4.6 0a2.3 2.3 0 1 0 -4.6 0M583.39 173.76a2.3 2.3 0 1 0 4.6 0a2.3 2.3 0 1 0 -4.6 0M581.93 171.46a2.3 2.3 0 1 0 4.6 0a2.3 2.3 0 1 0 -4.6 0M582.93 169.23a2.3 2.3 0 1 0 4.6 0a2.3 2.3 0 1 0 -4.6 0M585.59 166.71a2.3 2.3 0 1 0 4.6 0a2.3 2.3 0 1 0 -4.6 0M587.8 164.03a2.3 2.3 0 1 0 4.6 0a2.3 2.3 0 1 0 -4.6 0M591.63 162.93a2.3 2.3 0 1 0 4.6 0a2.3 2.3 0 1 0 -4.6 0M594.25 159.06a2.3 2.3 0 1 0 4.6 0a2.3 2.3 0 1 0 -4.6 0M594.57 155a2.3 2.3 0 1 0 4.6 0a2.3 2.3 0 1 0 -4.6 0M594.77 152.5a2.3 2.3 0 1 0 4.6 0a2.3 2.3 0 1 0 -4.6 0M595.41 149.7a2.3 2.3 0 1 0 4.6 0a2.3 2.3 0 1 0 -4.6 0M595.23 147.18a2.3 2.3 0 1 0 4.6 0a2.3 2.3 0 1 0 -4.6 0M593.55 144.28a2.3 2.3 0 1 0 4.6 0a2.3 2.3 0 1 0 -4.6 0M593.75 143.18a2.3 2.3 0 1 0 4.6 0a2.3 2.3 0 1 0 -4.6 0M589.95 138.28a2.3 2.3 0 1 0 4.6 0a2.3 2.3 0 1 0 -4.6 0M587.45 137.34a2.3 2.3 0 1 0 4.6 0a2.3 2.3 0 1 0 -4.6 0M586.47 138.79a2.3 2.3 0 1 0 4.6 0a2.3 2.3 0 1 0 -4.6 0M585.78 136.36a2.3 2.3 0 1 0 4.6 0a2.3 2.3 0 1 0 -4.6 0M585.64 133.67a2.3 2.3 0 1 0 4.6 0a2.3 2.3 0 1 0 -4.6 0M585.08 131.24a2.3 2.3 0 1 0 4.6 0a2.3 2.3 0 1 0 -4.6 0M587.49 130.29a2.3 2.3 0 1 0 4.6 0a2.3 2.3 0 1 0 -4.6 0M592.12 128.24a2.3 2.3 0 1 0 4.6 0a2.3 2.3 0 1 0 -4.6 0M596.1 126.87a2.3 2.3 0 1 0 4.6 0a2.3 2.3 0 1 0 -4.6 0M600.26 125.9a2.3 2.3 0 1 0 4.6 0a2.3 2.3 0 1 0 -4.6 0M602.04 123.22a2.3 2.3 0 1 0 4.6 0a2.3 2.3 0 1 0 -4.6 0M603.68 119.34a2.3 2.3 0 1 0 4.6 0a2.3 2.3 0 1 0 -4.6 0M602.8 118.16a2.3 2.3 0 1 0 4.6 0a2.3 2.3 0 1 0 -4.6 0M595 121.6a2.5 2.5 0 1 0 5 0a2.5 2.5 0 1 0 -5 0M616.3 170a2.2 2.2 0 1 0 4.4 0a2.2 2.2 0 1 0 -4.4 0M615.25 165a2 2 0 1 0 4 0a2 2 0 1 0 -4 0M600.7 171.25a2.2 2.2 0 1 0 4.4 0a2.2 2.2 0 1 0 -4.4 0M586.3 158.75a2.2 2.2 0 1 0 4.4 0a2.2 2.2 0 1 0 -4.4 0" fill="#1f77b4"/><circle cx="622.9" cy="127.1" r="1" fill="#b9d3e8" fill-opacity="0.75"/><circle cx="624" cy="128" r="0.6" fill="#b9d3e8" fill-opacity="0.75"/>
<path d="M104.57 443.27 L105.05 442.83 L108.83 441.81 L116 441.24 L123.2 441.82 L127.59 442.85 L129.7 445.05 L133.81 449.03 L134.78 452.74 L134.77 459.85 L133.58 467.24 L132.93 472.23 L131.7 479.63 L130.42 485.2 L132.38 489.39 L133.57 493.98 L133.59 499.67 L132.06 503.85 L131.69 504.41 L129.73 502.38 L127.6 500.34 L126.55 495.87 L125.38 491.18 L119.88 490.06 L113.5 490.06 L108.59 490.47 L107.4 494.29 L105.21 497.54 L99.32 503 L99.21 510.42 L102.38 516.89 L103.59 520.94 L101.63 523.67 L99.89 525.07 L97.34 522.49 L93.72 517.65 L90.03 512.72 L86.37 506.62 L84.74 503.65 L86.34 499.67 L89.34 496.14 L91.1 493.75 L95.7 489.66 L96.59 485 L95.85 480.68 L93.98 476.87 L92.6 471.59 L89.07 468.25 L85.74 469.05 L85.34 466.17 L85.72 463.97 L88.39 461.45 L93.18 458.49 L99.06 455.18 L103.94 449.48 Z" fill="#1f77b4" stroke="#1f77b4" stroke-width="1.5" stroke-linejoin="round"/><path d="M101.74 443.6a2.3 2.3 0 1 0 4.6 0a2.3 2.3 0 1 0 -4.6 0M102.18 442.6a2.3 2.3 0 1 0 4.6 0a2.3 2.3 0 1 0 -4.6 0M106.34 441.8a2.3 2.3 0 1 0 4.6 0a2.3 2.3 0 1 0 -4.6 0M110.07 441.17a2.3 2.3 0 1 0 4.6 0a2.3 2.3 0 1 0 -4.6 0M113.59 440.74a2.3 2.3 0 1 0 4.6 0a2.3 2.3 0 1 0 -4.6 0M117.31 441.51a2.3 2.3 0 1 0 4.6 0a2.3 2.3 0 1 0 -4.6 0M120.58 442.46a2.3 2.3 0 1 0 4.6 0a2.3 2.3 0 1 0 -4.6 0M123.12 442.93a2.3 2.3 0 1 0 4.6 0a2.3 2.3 0 1 0 -4.6 0M124.56 442.89a2.3 2.3 0 1 0 4.6 0a2.3 2.3 0 1 0 -4.6 0M127.6 444.86a2.3 2.3 0 1 0 4.6 0a2.3 2.3 0 1 0 -4.6 0M129.49 447.35a2.3 2.3 0 1 0 4.6 0a2.3 2.3 0 1 0 -4.6 0M131.52 448.53a2.3 2.3 0 1 0 4.6 0a2.3 2.3 0 1 0 -4.6 0M132.8 452.5a2.3 2.3 0 1 0 4.6 0a2.3 2.3 0 1 0 -4.6 0M132.9 456.25a2.3 2.3 0 1 0 4.6 0a2.3 2.3 0 1 0 -4.6 0M132.76 459.75a2.3 2.3 0 1 0 4.6 0a2.3 2.3 0 1 0 -4.6 0M131.18 463.35a2.3 2.3 0 1 0 4.6 0a2.3 2.3 0 1 0 -4.6 0M130.7 467.19a2.3 2.3 0 1 0 4.6 0a2.3 2.3 0 1 0 -4.6 0M130.41 469.69a2.3 2.3 0 1 0 4.6 0a2.3 2.3 0 1 0 -4.6 0M130.11 472.11a2.3 2.3 0 1 0 4.6 0a2.3 2.3 0 1 0 -4.6 0M130.32 476a2.3 2.3 0 1 0 4.6 0a2.3 2.3 0 1 0 -4.6 0M129.56 479.59a2.3 2.3 0 1 0 4.6 0a2.3 2.3 0 1 0 -4.6 0M128.51 481.98a2.3 2.3 0 1 0 4.6 0a2.3 2.3 0 1 0 -4.6 0M127.91 486.01a2.3 2.3 0 1 0 4.6 0a2.3 2.3 0 1 0 -4.6 0M129.43 489.37a2.3 2.3 0 1 0 4.6 0a2.3 2.3 0 1 0 -4.6 0M130.04 491.88a2.3 2.3 0 1 0 4.6 0a2.3 2.3 0 1 0 -4.6 0M131.72 493.75a2.3 2.3 0 1 0 4.6 0a2.3 2.3 0 1 0 -4.6 0M131 496.88a2.3 2.3 0 1 0 4.6 0a2.3 2.3 0 1 0 -4.6 0M131.05 499.22a2.3 2.3 0 1 0 4.6 0a2.3 2.3 0 1 0 -4.6 0M130.31 501.8a2.3 2.3 0 1 0 4.6 0a2.3 2.3 0 1 0 -4.6 0M130.37 503.74a2.3 2.3 0 1 0 4.6 0a2.3 2.3 0 1 0 -4.6 0M130.5 504.76a2.3 2.3 0 1 0 4.6 0a2.3 2.3 0 1 0 -4.6 0M127.18 502.77a2.3 2.3 0 1 0 4.6 0a2.3 2.3 0 1 0 -4.6 0M126.19 500.63a2.3 2.3 0 1 0 4.6 0a2.3 2.3 0 1 0 -4.6 0M125.47 498.15a2.3 2.3 0 1 0 4.6 0a2.3 2.3 0 1 0 -4.6 0M124.44 495.9a2.3 2.3 0 1 0 4.6 0a2.3 2.3 0 1 0 -4.6 0M122.03 490.84a2.3 2.3 0 1 0 4.6 0a2.3 2.3 0 1 0 -4.6 0M117.45 489.37a2.3 2.3 0 1 0 4.6 0a2.3 2.3 0 1 0 -4.6 0M114.33 489.84a2.3 2.3 0 1 0 4.6 0a2.3 2.3 0 1 0 -4.6 0M111.2 489.41a2.3 2.3 0 1 0 4.6 0a2.3 2.3 0 1 0 -4.6 0M105.06 491.4a2.3 2.3 0 1 0 4.6 0a2.3 2.3 0 1 0 -4.6 0M105.16 493.91a2.3 2.3 0 1 0 4.6 0a2.3 2.3 0 1 0 -4.6 0M103.08 497.38a2.3 2.3 0 1 0 4.6 0a2.3 2.3 0 1 0 -4.6 0M100.11 499.69a2.3 2.3 0 1 0 4.6 0a2.3 2.3 0 1 0 -4.6 0M96.84 503.75a2.3 2.3 0 1 0 4.6 0a2.3 2.3 0 1 0 -4.6 0M97.22 506.88a2.3 2.3 0 1 0 4.6 0a2.3 2.3 0 1 0 -4.6 0M97.19 510.75a2.3 2.3 0 1 0 4.6 0a2.3 2.3 0 1 0 -4.6 0M98.11 514.19a2.3 2.3 0 1 0 4.6 0a2.3 2.3 0 1 0 -4.6 0M100.53 516.58a2.3 2.3 0 1 0 4.6 0a2.3 2.3 0 1 0 -4.6 0M101.17 519.08a2.3 2.3 0 1 0 4.6 0a2.3 2.3 0 1 0 -4.6 0M101.33 520.07a2.3 2.3 0 1 0 4.6 0a2.3 2.3 0 1 0 -4.6 0M99.75 523.59a2.3 2.3 0 1 0 4.6 0a2.3 2.3 0 1 0 -4.6 0M98.74 525.37a2.3 2.3 0 1 0 4.6 0a2.3 2.3 0 1 0 -4.6 0M95.23 522.6a2.3 2.3 0 1 0 4.6 0a2.3 2.3 0 1 0 -4.6 0M93.21 520.21a2.3 2.3 0 1 0 4.6 0a2.3 2.3 0 1 0 -4.6 0M92.07 517.16a2.3 2.3 0 1 0 4.6 0a2.3 2.3 0 1 0 -4.6 0M89.3 515.33a2.3 2.3 0 1 0 4.6 0a2.3 2.3 0 1 0 -4.6 0M87.77 512.81a2.3 2.3 0 1 0 4.6 0a2.3 2.3 0 1 0 -4.6 0M85.64 509.83a2.3 2.3 0 1 0 4.6 0a2.3 2.3 0 1 0 -4.6 0M84.37 506.55a2.3 2.3 0 1 0 4.6 0a2.3 2.3 0 1 0 -4.6 0M82.14 504.32a2.3 2.3 0 1 0 4.6 0a2.3 2.3 0 1 0 -4.6 0M83.17 501.86a2.3 2.3 0 1 0 4.6 0a2.3 2.3 0 1 0 -4.6 0M84.21 500.23a2.3 2.3 0 1 0 4.6 0a2.3 2.3 0 1 0 -4.6 0M86.97 496.01a2.3 2.3 0 1 0 4.6 0a2.3 2.3 0 1 0 -4.6 0M88.78 494.04a2.3 2.3 0 1 0 4.6 0a2.3 2.3 0 1 0 -4.6 0M91.27 492.53a2.3 2.3 0 1 0 4.6 0a2.3 2.3 0 1 0 -4.6 0M93.18 488.99a2.3 2.3 0 1 0 4.6 0a2.3 2.3 0 1 0 -4.6 0M93.77 484.77a2.3 2.3 0 1 0 4.6 0a2.3 2.3 0 1 0 -4.6 0M93.21 480.55a2.3 2.3 0 1 0 4.6 0a2.3 2.3 0 1 0 -4.6 0M92.21 476.94a2.3 2.3 0 1 0 4.6 0a2.3 2.3 0 1 0 -4.6 0M91.38 474.49a2.3 2.3 0 1 0 4.6 0a2.3 2.3 0 1 0 -4.6 0M89.82 471.38a2.3 2.3 0 1 0 4.6 0a2.3 2.3 0 1 0 -4.6 0M85.93 468.3a2.3 2.3 0 1 0 4.6 0a2.3 2.3 0 1 0 -4.6 0M83.9 470.18a2.3 2.3 0 1 0 4.6 0a2.3 2.3 0 1 0 -4.6 0M83.06 466.61a2.3 2.3 0 1 0 4.6 0a2.3 2.3 0 1 0 -4.6 0M82.72 464.04a2.3 2.3 0 1 0 4.6 0a2.3 2.3 0 1 0 -4.6 0M86.13 461.9a2.3 2.3 0 1 0 4.6 0a2.3 2.3 0 1 0 -4.6 0M88.77 460.58a2.3 2.3 0 1 0 4.6 0a2.3 2.3 0 1 0 -4.6 0M91.21 459.16a2.3 2.3 0 1 0 4.6 0a2.3 2.3 0 1 0 -4.6 0M93.89 457.32a2.3 2.3 0 1 0 4.6 0a2.3 2.3 0 1 0 -4.6 0M97.56 455.46a2.3 2.3 0 1 0 4.6 0a2.3 2.3 0 1 0 -4.6 0M98.74 452.09a2.3 2.3 0 1 0 4.6 0a2.3 2.3 0 1 0 -4.6 0M101.6 448.92a2.3 2.3 0 1 0 4.6 0a2.3 2.3 0 1 0 -4.6 0M102.87 445.89a2.3 2.3 0 1 0 4.6 0a2.3 2.3 0 1 0 -4.6 0M91.7 452.5a2.4 2.4 0 1 0 4.8 0a2.4 2.4 0 1 0 -4.8 0M115.05 494a2.2 2.2 0 1 0 4.4 0a2.2 2.2 0 1 0 -4.4 0M115.05 499.5a2.2 2.2 0 1 0 4.4 0a2.2 2.2 0 1 0 -4.4 0M101.55 503.5a2.2 2.2 0 1 0 4.4 0a2.2 2.2 0 1 0 -4.4 0M86.3 490.6a2.2 2.2 0 1 0 4.4 0a2.2 2.2 0 1 0 -4.4 0" fill="#1f77b4"/><circle cx="112.5" cy="444" r="0.8" fill="#b9d3e8" fill-opacity="0.75"/><circle cx="119.5" cy="449.5" r="0.7" fill="#b9d3e8" fill-opacity="0.75"/><circle cx="118" cy="455.5" r="0.6" fill="#b9d3e8" fill-opacity="0.75"/><circle cx="123.5" cy="445.5" r="0.6" fill="#b9d3e8" fill-opacity="0.75"/><circle cx="110" cy="460" r="0.5" fill="#b9d3e8" fill-opacity="0.75"/><circle cx="115.5" cy="489" r="0.5" fill="#b9d3e8" fill-opacity="0.75"/>
<path d="M343.61 464.11 L344.47 465.15 L345.56 469.99 L347.16 473.32 L346.16 476.47 L347.31 480.58 L350.64 482.43 L353.91 479.89 L354.64 476.05 L354.1 471.89 L354.76 470.84 L356.16 470.18 L357.99 469.34 L359.57 470.09 L360.66 470.95 L362.29 474.25 L365 476.77 L368.2 476.14 L370.28 476.51 L374.16 477.22 L375.9 478.07 L376.38 481.46 L376.81 485.93 L378.14 489.33 L379 493.39 L379.42 495.2 L379.44 499.68 L377.79 504.11 L377.25 505.68 L376.1 504.13 L373.99 502.67 L373.04 499.59 L372.26 494.2 L369.24 491.33 L364.87 492.53 L363.78 498.51 L363.62 501.88 L363.38 502.13 L363.07 499.71 L363.08 494.78 L361.44 488.85 L356.8 487.05 L354.47 492.05 L353.85 495.68 L352.2 499.01 L350.01 501.74 L346.01 504.52 L344.42 510.17 L347.1 515.82 L349.5 520.57 L350.1 523.37 L348.38 525.97 L346.79 526.34 L345.17 524.43 L341.49 518.92 L337.09 513.33 L333.57 507.97 L332.44 504.51 L334.12 500.88 L336.71 496.92 L337.25 493.32 L339.87 490.73 L342.27 487.77 L342.84 484.66 L342.34 479.81 L340.17 476.24 L339 472.41 L338.44 467.99 L338.66 465.3 L339.87 464.12 L341.53 463.84 Z" fill="#1f77b4" stroke="#1f77b4" stroke-width="1.5" stroke-linejoin="round"/><path d="M340.61 463.91a2.3 2.3 0 1 0 4.6 0a2.3 2.3 0 1 0 -4.6 0M341.57 464.83a2.3 2.3 0 1 0 4.6 0a2.3 2.3 0 1 0 -4.6 0M342.09 467.39a2.3 2.3 0 1 0 4.6 0a2.3 2.3 0 1 0 -4.6 0M342.65 470.45a2.3 2.3 0 1 0 4.6 0a2.3 2.3 0 1 0 -4.6 0M344.51 472.54a2.3 2.3 0 1 0 4.6 0a2.3 2.3 0 1 0 -4.6 0M343.24 477.16a2.3 2.3 0 1 0 4.6 0a2.3 2.3 0 1 0 -4.6 0M345.8 480.59a2.3 2.3 0 1 0 4.6 0a2.3 2.3 0 1 0 -4.6 0M349.47 482.03a2.3 2.3 0 1 0 4.6 0a2.3 2.3 0 1 0 -4.6 0M352.54 479.42a2.3 2.3 0 1 0 4.6 0a2.3 2.3 0 1 0 -4.6 0M352.65 475.76a2.3 2.3 0 1 0 4.6 0a2.3 2.3 0 1 0 -4.6 0M352.16 472.79a2.3 2.3 0 1 0 4.6 0a2.3 2.3 0 1 0 -4.6 0M351.86 470.75a2.3 2.3 0 1 0 4.6 0a2.3 2.3 0 1 0 -4.6 0M353.79 470.28a2.3 2.3 0 1 0 4.6 0a2.3 2.3 0 1 0 -4.6 0M355.11 468.99a2.3 2.3 0 1 0 4.6 0a2.3 2.3 0 1 0 -4.6 0M356.93 470.06a2.3 2.3 0 1 0 4.6 0a2.3 2.3 0 1 0 -4.6 0M357.96 470.72a2.3 2.3 0 1 0 4.6 0a2.3 2.3 0 1 0 -4.6 0M360.57 474.07a2.3 2.3 0 1 0 4.6 0a2.3 2.3 0 1 0 -4.6 0M363.61 476.5a2.3 2.3 0 1 0 4.6 0a2.3 2.3 0 1 0 -4.6 0M365.54 475.93a2.3 2.3 0 1 0 4.6 0a2.3 2.3 0 1 0 -4.6 0M367.83 477.19a2.3 2.3 0 1 0 4.6 0a2.3 2.3 0 1 0 -4.6 0M371.34 477.52a2.3 2.3 0 1 0 4.6 0a2.3 2.3 0 1 0 -4.6 0M373.65 477.28a2.3 2.3 0 1 0 4.6 0a2.3 2.3 0 1 0 -4.6 0M373.54 481.42a2.3 2.3 0 1 0 4.6 0a2.3 2.3 0 1 0 -4.6 0M374.95 486.03a2.3 2.3 0 1 0 4.6 0a2.3 2.3 0 1 0 -4.6 0M375.53 489.24a2.3 2.3 0 1 0 4.6 0a2.3 2.3 0 1 0 -4.6 0M377.1 493.31a2.3 2.3 0 1 0 4.6 0a2.3 2.3 0 1 0 -4.6 0M377.69 495a2.3 2.3 0 1 0 4.6 0a2.3 2.3 0 1 0 -4.6 0M376.48 497.5a2.3 2.3 0 1 0 4.6 0a2.3 2.3 0 1 0 -4.6 0M377.5 499.46a2.3 2.3 0 1 0 4.6 0a2.3 2.3 0 1 0 -4.6 0M376.57 501.96a2.3 2.3 0 1 0 4.6 0a2.3 2.3 0 1 0 -4.6 0M375.01 503.41a2.3 2.3 0 1 0 4.6 0a2.3 2.3 0 1 0 -4.6 0M376.7 505.53a2.3 2.3 0 1 0 4.6 0a2.3 2.3 0 1 0 -4.6 0M373.69 504.27a2.3 2.3 0 1 0 4.6 0a2.3 2.3 0 1 0 -4.6 0M372.67 502.93a2.3 2.3 0 1 0 4.6 0a2.3 2.3 0 1 0 -4.6 0M370.94 499.74a2.3 2.3 0 1 0 4.6 0a2.3 2.3 0 1 0 -4.6 0M370.81 497.22a2.3 2.3 0 1 0 4.6 0a2.3 2.3 0 1 0 -4.6 0M369.4 493.92a2.3 2.3 0 1 0 4.6 0a2.3 2.3 0 1 0 -4.6 0M365.8 490.61a2.3 2.3 0 1 0 4.6 0a2.3 2.3 0 1 0 -4.6 0M361.75 493.46a2.3 2.3 0 1 0 4.6 0a2.3 2.3 0 1 0 -4.6 0M361.04 495.91a2.3 2.3 0 1 0 4.6 0a2.3 2.3 0 1 0 -4.6 0M360.82 498.41a2.3 2.3 0 1 0 4.6 0a2.3 2.3 0 1 0 -4.6 0M362.28 501.48a2.3 2.3 0 1 0 4.6 0a2.3 2.3 0 1 0 -4.6 0M361.87 503.19a2.3 2.3 0 1 0 4.6 0a2.3 2.3 0 1 0 -4.6 0M360.44 500a2.3 2.3 0 1 0 4.6 0a2.3 2.3 0 1 0 -4.6 0M360.41 497.5a2.3 2.3 0 1 0 4.6 0a2.3 2.3 0 1 0 -4.6 0M360.26 494.67a2.3 2.3 0 1 0 4.6 0a2.3 2.3 0 1 0 -4.6 0M359.95 492.09a2.3 2.3 0 1 0 4.6 0a2.3 2.3 0 1 0 -4.6 0M358.64 488.12a2.3 2.3 0 1 0 4.6 0a2.3 2.3 0 1 0 -4.6 0M354 488.35a2.3 2.3 0 1 0 4.6 0a2.3 2.3 0 1 0 -4.6 0M351.78 492.12a2.3 2.3 0 1 0 4.6 0a2.3 2.3 0 1 0 -4.6 0M351.75 495.49a2.3 2.3 0 1 0 4.6 0a2.3 2.3 0 1 0 -4.6 0M350.14 498.94a2.3 2.3 0 1 0 4.6 0a2.3 2.3 0 1 0 -4.6 0M347.62 501.1a2.3 2.3 0 1 0 4.6 0a2.3 2.3 0 1 0 -4.6 0M343.35 505.07a2.3 2.3 0 1 0 4.6 0a2.3 2.3 0 1 0 -4.6 0M342.43 510.76a2.3 2.3 0 1 0 4.6 0a2.3 2.3 0 1 0 -4.6 0M343.47 513.36a2.3 2.3 0 1 0 4.6 0a2.3 2.3 0 1 0 -4.6 0M344.45 516a2.3 2.3 0 1 0 4.6 0a2.3 2.3 0 1 0 -4.6 0M346.51 518.1a2.3 2.3 0 1 0 4.6 0a2.3 2.3 0 1 0 -4.6 0M346.37 520.45a2.3 2.3 0 1 0 4.6 0a2.3 2.3 0 1 0 -4.6 0M348.53 523.04a2.3 2.3 0 1 0 4.6 0a2.3 2.3 0 1 0 -4.6 0M346.67 525.24a2.3 2.3 0 1 0 4.6 0a2.3 2.3 0 1 0 -4.6 0M345.67 526.38a2.3 2.3 0 1 0 4.6 0a2.3 2.3 0 1 0 -4.6 0M342.51 524.89a2.3 2.3 0 1 0 4.6 0a2.3 2.3 0 1 0 -4.6 0M341.53 521.49a2.3 2.3 0 1 0 4.6 0a2.3 2.3 0 1 0 -4.6 0M339.09 518.91a2.3 2.3 0 1 0 4.6 0a2.3 2.3 0 1 0 -4.6 0M337.12 515.92a2.3 2.3 0 1 0 4.6 0a2.3 2.3 0 1 0 -4.6 0M334.36 513.71a2.3 2.3 0 1 0 4.6 0a2.3 2.3 0 1 0 -4.6 0M332.55 510.85a2.3 2.3 0 1 0 4.6 0a2.3 2.3 0 1 0 -4.6 0M331.05 508.32a2.3 2.3 0 1 0 4.6 0a2.3 2.3 0 1 0 -4.6 0M330.68 505.43a2.3 2.3 0 1 0 4.6 0a2.3 2.3 0 1 0 -4.6 0M331.47 500.85a2.3 2.3 0 1 0 4.6 0a2.3 2.3 0 1 0 -4.6 0M334.98 496.62a2.3 2.3 0 1 0 4.6 0a2.3 2.3 0 1 0 -4.6 0M335.14 494.28a2.3 2.3 0 1 0 4.6 0a2.3 2.3 0 1 0 -4.6 0M338.17 491.16a2.3 2.3 0 1 0 4.6 0a2.3 2.3 0 1 0 -4.6 0M340.01 487.29a2.3 2.3 0 1 0 4.6 0a2.3 2.3 0 1 0 -4.6 0M340.44 484.43a2.3 2.3 0 1 0 4.6 0a2.3 2.3 0 1 0 -4.6 0M339.99 479.35a2.3 2.3 0 1 0 4.6 0a2.3 2.3 0 1 0 -4.6 0M338.44 476.31a2.3 2.3 0 1 0 4.6 0a2.3 2.3 0 1 0 -4.6 0M336.3 472.63a2.3 2.3 0 1 0 4.6 0a2.3 2.3 0 1 0 -4.6 0M336.59 468.26a2.3 2.3 0 1 0 4.6 0a2.3 2.3 0 1 0 -4.6 0M336.38 466.18a2.3 2.3 0 1 0 4.6 0a2.3 2.3 0 1 0 -4.6 0M337.18 464.91a2.3 2.3 0 1 0 4.6 0a2.3 2.3 0 1 0 -4.6 0M338.99 463.29a2.3 2.3 0 1 0 4.6 0a2.3 2.3 0 1 0 -4.6 0M354.4 450.5a2.6 2.6 0 1 0 5.2 0a2.6 2.6 0 1 0 -5.2 0M357.4 450a2.6 2.6 0 1 0 5.2 0a2.6 2.6 0 1 0 -5.2 0M358.4 453.5a2.6 2.6 0 1 0 5.2 0a2.6 2.6 0 1 0 -5.2 0M355.4 455.5a2.6 2.6 0 1 0 5.2 0a2.6 2.6 0 1 0 -5.2 0M354.1 453a2.4 2.4 0 1 0 4.8 0a2.4 2.4 0 1 0 -4.8 0M366.35 455a2.4 2.4 0 1 0 4.8 0a2.4 2.4 0 1 0 -4.8 0M355.1 464.4a2.4 2.4 0 1 0 4.8 0a2.4 2.4 0 1 0 -4.8 0M367.6 468.75a2.4 2.4 0 1 0 4.8 0a2.4 2.4 0 1 0 -4.8 0M372 465.6a2.4 2.4 0 1 0 4.8 0a2.4 2.4 0 1 0 -4.8 0M347.8 505a2.2 2.2 0 1 0 4.4 0a2.2 2.2 0 1 0 -4.4 0M332.6 491.9a2.4 2.4 0 1 0 4.8 0a2.4 2.4 0 1 0 -4.8 0" fill="#1f77b4"/><circle cx="359.2" cy="467.5" r="1.2" fill="#b9d3e8" fill-opacity="0.75"/><circle cx="361" cy="470" r="0.8" fill="#b9d3e8" fill-opacity="0.75"/><circle cx="369" cy="477" r="0.6" fill="#b9d3e8" fill-opacity="0.75"/>
<path d="M591.22 468.96 L592.96 468.88 L594.31 470.58 L595.67 472.71 L594.76 475.38 L595.63 480.26 L598.98 482.44 L602.47 480.25 L603.13 475.86 L602.44 473.52 L603.01 471.55 L604.32 470.65 L605.54 470.1 L606.77 471.37 L609.77 474.37 L612.49 476.54 L617.01 478.64 L620.05 476.76 L622.47 476.81 L624.99 477.68 L625.74 479.24 L626.08 483.15 L626.99 488.33 L627.82 492.65 L628.68 495.28 L628.68 500.95 L627.15 505.77 L626.86 506.26 L624.24 503.64 L622.14 501.66 L621.72 498.49 L620.67 492.58 L614.8 490.8 L612.46 494.58 L612.46 499.58 L612.52 500.72 L612.66 500.28 L612.25 495.67 L608.73 490.21 L604.15 491.25 L603.15 495.68 L601.51 498.92 L598.66 501.74 L594.58 505.22 L593.06 510.1 L595.76 516.43 L598.21 520.74 L599.28 523.49 L597.37 526.13 L595.08 527.57 L593.07 525.62 L589.49 520.82 L585.14 514.59 L582.15 509.78 L580.44 505.63 L581.52 503.37 L584.13 499.38 L584.49 493.4 L587.7 492.83 L590.41 489.98 L592 487.79 L592.51 483.49 L590.61 479.52 L588.24 475.61 L587.81 472.23 L588.66 470.64 Z" fill="#1f77b4" stroke="#1f77b4" stroke-width="1.5" stroke-linejoin="round"/><path d="M588.4 469.57a2.3 2.3 0 1 0 4.6 0a2.3 2.3 0 1 0 -4.6 0M589.62 468.82a2.3 2.3 0 1 0 4.6 0a2.3 2.3 0 1 0 -4.6 0M591.82 470.45a2.3 2.3 0 1 0 4.6 0a2.3 2.3 0 1 0 -4.6 0M593.65 472.03a2.3 2.3 0 1 0 4.6 0a2.3 2.3 0 1 0 -4.6 0M593.06 475.7a2.3 2.3 0 1 0 4.6 0a2.3 2.3 0 1 0 -4.6 0M593.62 481.07a2.3 2.3 0 1 0 4.6 0a2.3 2.3 0 1 0 -4.6 0M597.78 482.18a2.3 2.3 0 1 0 4.6 0a2.3 2.3 0 1 0 -4.6 0M600.9 479.58a2.3 2.3 0 1 0 4.6 0a2.3 2.3 0 1 0 -4.6 0M600.71 475.52a2.3 2.3 0 1 0 4.6 0a2.3 2.3 0 1 0 -4.6 0M600.53 474.17a2.3 2.3 0 1 0 4.6 0a2.3 2.3 0 1 0 -4.6 0M600.18 471.81a2.3 2.3 0 1 0 4.6 0a2.3 2.3 0 1 0 -4.6 0M601.87 471.28a2.3 2.3 0 1 0 4.6 0a2.3 2.3 0 1 0 -4.6 0M602.17 470.07a2.3 2.3 0 1 0 4.6 0a2.3 2.3 0 1 0 -4.6 0M604.4 471.3a2.3 2.3 0 1 0 4.6 0a2.3 2.3 0 1 0 -4.6 0M607.45 474.57a2.3 2.3 0 1 0 4.6 0a2.3 2.3 0 1 0 -4.6 0M610.17 476.95a2.3 2.3 0 1 0 4.6 0a2.3 2.3 0 1 0 -4.6 0M615.47 478.05a2.3 2.3 0 1 0 4.6 0a2.3 2.3 0 1 0 -4.6 0M617.2 477.03a2.3 2.3 0 1 0 4.6 0a2.3 2.3 0 1 0 -4.6 0M619.65 477.23a2.3 2.3 0 1 0 4.6 0a2.3 2.3 0 1 0 -4.6 0M622.47 477.07a2.3 2.3 0 1 0 4.6 0a2.3 2.3 0 1 0 -4.6 0M622.83 478.93a2.3 2.3 0 1 0 4.6 0a2.3 2.3 0 1 0 -4.6 0M623.42 483.28a2.3 2.3 0 1 0 4.6 0a2.3 2.3 0 1 0 -4.6 0M623.65 485.87a2.3 2.3 0 1 0 4.6 0a2.3 2.3 0 1 0 -4.6 0M624.81 488.32a2.3 2.3 0 1 0 4.6 0a2.3 2.3 0 1 0 -4.6 0M625.98 492.62a2.3 2.3 0 1 0 4.6 0a2.3 2.3 0 1 0 -4.6 0M625.82 495a2.3 2.3 0 1 0 4.6 0a2.3 2.3 0 1 0 -4.6 0M625.82 498.12a2.3 2.3 0 1 0 4.6 0a2.3 2.3 0 1 0 -4.6 0M626.42 500.65a2.3 2.3 0 1 0 4.6 0a2.3 2.3 0 1 0 -4.6 0M625.94 503.63a2.3 2.3 0 1 0 4.6 0a2.3 2.3 0 1 0 -4.6 0M625.47 505.62a2.3 2.3 0 1 0 4.6 0a2.3 2.3 0 1 0 -4.6 0M625.82 506.45a2.3 2.3 0 1 0 4.6 0a2.3 2.3 0 1 0 -4.6 0M621.88 503.82a2.3 2.3 0 1 0 4.6 0a2.3 2.3 0 1 0 -4.6 0M620.75 502.09a2.3 2.3 0 1 0 4.6 0a2.3 2.3 0 1 0 -4.6 0M619.66 498.48a2.3 2.3 0 1 0 4.6 0a2.3 2.3 0 1 0 -4.6 0M618.8 496.05a2.3 2.3 0 1 0 4.6 0a2.3 2.3 0 1 0 -4.6 0M617.64 491.69a2.3 2.3 0 1 0 4.6 0a2.3 2.3 0 1 0 -4.6 0M611.63 491.71a2.3 2.3 0 1 0 4.6 0a2.3 2.3 0 1 0 -4.6 0M609.39 495a2.3 2.3 0 1 0 4.6 0a2.3 2.3 0 1 0 -4.6 0M609.42 497.5a2.3 2.3 0 1 0 4.6 0a2.3 2.3 0 1 0 -4.6 0M610.18 499.12a2.3 2.3 0 1 0 4.6 0a2.3 2.3 0 1 0 -4.6 0M611.89 500.7a2.3 2.3 0 1 0 4.6 0a2.3 2.3 0 1 0 -4.6 0M611.02 500.98a2.3 2.3 0 1 0 4.6 0a2.3 2.3 0 1 0 -4.6 0M610.87 498.47a2.3 2.3 0 1 0 4.6 0a2.3 2.3 0 1 0 -4.6 0M610.47 494.94a2.3 2.3 0 1 0 4.6 0a2.3 2.3 0 1 0 -4.6 0M608.07 493.43a2.3 2.3 0 1 0 4.6 0a2.3 2.3 0 1 0 -4.6 0M605.29 490.19a2.3 2.3 0 1 0 4.6 0a2.3 2.3 0 1 0 -4.6 0M601.13 492.17a2.3 2.3 0 1 0 4.6 0a2.3 2.3 0 1 0 -4.6 0M601.1 495.49a2.3 2.3 0 1 0 4.6 0a2.3 2.3 0 1 0 -4.6 0M599.23 498.53a2.3 2.3 0 1 0 4.6 0a2.3 2.3 0 1 0 -4.6 0M596.72 502.04a2.3 2.3 0 1 0 4.6 0a2.3 2.3 0 1 0 -4.6 0M591.43 505.49a2.3 2.3 0 1 0 4.6 0a2.3 2.3 0 1 0 -4.6 0M590.78 510.81a2.3 2.3 0 1 0 4.6 0a2.3 2.3 0 1 0 -4.6 0M592.55 513.38a2.3 2.3 0 1 0 4.6 0a2.3 2.3 0 1 0 -4.6 0M593.2 516.68a2.3 2.3 0 1 0 4.6 0a2.3 2.3 0 1 0 -4.6 0M594.88 518.64a2.3 2.3 0 1 0 4.6 0a2.3 2.3 0 1 0 -4.6 0M596.14 520.47a2.3 2.3 0 1 0 4.6 0a2.3 2.3 0 1 0 -4.6 0M597.19 522.68a2.3 2.3 0 1 0 4.6 0a2.3 2.3 0 1 0 -4.6 0M595.64 526.21a2.3 2.3 0 1 0 4.6 0a2.3 2.3 0 1 0 -4.6 0M593.56 528.19a2.3 2.3 0 1 0 4.6 0a2.3 2.3 0 1 0 -4.6 0M591.42 525.42a2.3 2.3 0 1 0 4.6 0a2.3 2.3 0 1 0 -4.6 0M589.36 523.06a2.3 2.3 0 1 0 4.6 0a2.3 2.3 0 1 0 -4.6 0M586.74 521.17a2.3 2.3 0 1 0 4.6 0a2.3 2.3 0 1 0 -4.6 0M585.42 517.41a2.3 2.3 0 1 0 4.6 0a2.3 2.3 0 1 0 -4.6 0M582.39 514.93a2.3 2.3 0 1 0 4.6 0a2.3 2.3 0 1 0 -4.6 0M581.21 512.19a2.3 2.3 0 1 0 4.6 0a2.3 2.3 0 1 0 -4.6 0M580.56 509.7a2.3 2.3 0 1 0 4.6 0a2.3 2.3 0 1 0 -4.6 0M579.23 507.35a2.3 2.3 0 1 0 4.6 0a2.3 2.3 0 1 0 -4.6 0M577.85 506.25a2.3 2.3 0 1 0 4.6 0a2.3 2.3 0 1 0 -4.6 0M579.08 503.49a2.3 2.3 0 1 0 4.6 0a2.3 2.3 0 1 0 -4.6 0M581.89 498.94a2.3 2.3 0 1 0 4.6 0a2.3 2.3 0 1 0 -4.6 0M581.87 495.63a2.3 2.3 0 1 0 4.6 0a2.3 2.3 0 1 0 -4.6 0M581.47 494.77a2.3 2.3 0 1 0 4.6 0a2.3 2.3 0 1 0 -4.6 0M585.43 492.15a2.3 2.3 0 1 0 4.6 0a2.3 2.3 0 1 0 -4.6 0M588.17 489.92a2.3 2.3 0 1 0 4.6 0a2.3 2.3 0 1 0 -4.6 0M590.28 487.38a2.3 2.3 0 1 0 4.6 0a2.3 2.3 0 1 0 -4.6 0M590.02 482.99a2.3 2.3 0 1 0 4.6 0a2.3 2.3 0 1 0 -4.6 0M588.96 479.06a2.3 2.3 0 1 0 4.6 0a2.3 2.3 0 1 0 -4.6 0M585.79 476.02a2.3 2.3 0 1 0 4.6 0a2.3 2.3 0 1 0 -4.6 0M586.03 473.11a2.3 2.3 0 1 0 4.6 0a2.3 2.3 0 1 0 -4.6 0M586.36 471.5a2.3 2.3 0 1 0 4.6 0a2.3 2.3 0 1 0 -4.6 0M604.8 450.5a2.7 2.7 0 1 0 5.4 0a2.7 2.7 0 1 0 -5.4 0M607.8 450.5a2.7 2.7 0 1 0 5.4 0a2.7 2.7 0 1 0 -5.4 0M608.9 453.5a2.6 2.6 0 1 0 5.2 0a2.6 2.6 0 1 0 -5.2 0M605.9 454.5a2.6 2.6 0 1 0 5.2 0a2.6 2.6 0 1 0 -5.2 0M610.8 502a2.2 2.2 0 1 0 4.4 0a2.2 2.2 0 1 0 -4.4 0M597.05 505.6a2.2 2.2 0 1 0 4.4 0a2.2 2.2 0 1 0 -4.4 0M581.4 493.1a2.2 2.2 0 1 0 4.4 0a2.2 2.2 0 1 0 -4.4 0" fill="#1f77b4"/><circle cx="622" cy="478.5" r="0.8" fill="#b9d3e8" fill-opacity="0.75"/>
<path d="M44.5 225.5H200.07" stroke="#555" stroke-width="1.1" fill="none"/>
<path d="M47.36 224.3V228.5 M72.33 224.3V228.5 M97.3 224.3V228.5 M122.27 224.3V228.5 M147.23 224.3V228.5 M172.2 224.3V228.5 M197.17 224.3V228.5" stroke="#222" stroke-width="1" fill="none"/>
<path d="M44.5 68.81V225" stroke="#1a1a1a" stroke-width="1.2" fill="none"/>
<path d="M42 222.39H45.7 M42 203.48H45.7 M42 184.57H45.7 M42 165.66H45.7 M42 146.75H45.7 M42 127.84H45.7 M42 108.93H45.7 M42 90.02H45.7 M42 71.11H45.7" stroke="#222" stroke-width="1" fill="none"/>
<path d="M44.5 69.31L38 60.6" stroke="#1a1a1a" stroke-width="1.6" fill="none"/>
<path d="M41.9 69.11L45.3 68.51 M40.27 67.06L43.67 66.46 M38.65 65L42.05 64.41 M37.02 62.95L40.42 62.35 M35.4 60.9L38.8 60.3" stroke="#222" stroke-width="0.9" fill="none"/>
<g font-family="'DejaVu Sans', 'Liberation Sans', sans-serif" font-size="8.49" fill="#1e1e1e" stroke="#1e1e1e" stroke-width="0.3" text-anchor="middle"><text x="47.66" y="244.68">−1.5</text><text x="72.63" y="244.68">−1.0</text><text x="97.6" y="244.68">−0.5</text><text x="122.56" y="244.68">0.0</text><text x="147.53" y="244.68">0.5</text><text x="172.5" y="244.68">1.0</text><text x="197.47" y="244.68">1.5</text><text x="32.42" y="230.28">0.00</text><text x="32.42" y="211.37">0.25</text><text x="32.42" y="192.46">0.50</text><text x="32.42" y="173.55">0.75</text><text x="32.42" y="154.64">1.00</text><text x="32.42" y="135.73">1.25</text><text x="32.42" y="116.82">1.50</text><text x="32.42" y="97.91">1.75</text><text x="32.42" y="79">2.00</text><text x="122.27" y="253.76">x</text><text x="19.23" y="150.55">y</text><text x="13.04" y="38.81">z</text></g>
<g font-family="'DejaVu Sans', 'Liberation Sans', sans-serif" font-size="8.49" fill="#111" stroke="#111" stroke-width="0.25"><text x="17.33" y="54.33" transform="rotate(24 17.33 54.33)">0.04</text><text x="19.73" y="55.53" transform="rotate(24 19.73 55.53)">0.00</text><text x="22.13" y="56.73" transform="rotate(24 22.13 56.73)">0.02</text><text x="23.93" y="57.73" transform="rotate(24 23.93 57.73)">0.02</text></g>
<path d="M288.9 224.8H445.65" stroke="#666" stroke-width="1.1" fill="none"/>
<path d="M292.51 223.6V227.8 M317.55 223.6V227.8 M342.59 223.6V227.8 M367.63 223.6V227.8 M392.67 223.6V227.8 M417.71 223.6V227.8 M442.75 223.6V227.8" stroke="#222" stroke-width="1" fill="none"/>
<path d="M288.9 67.35V224.3" stroke="#777" stroke-width="1.2" fill="none"/>
<path d="M286.4 222.31H290.1 M286.4 203.23H290.1 M286.4 184.15H290.1 M286.4 165.06H290.1 M286.4 145.98H290.1 M286.4 126.9H290.1 M286.4 107.81H290.1 M286.4 88.73H290.1 M286.4 69.65H290.1" stroke="#222" stroke-width="1" fill="none"/>
<path d="M288.9 67.85L282.1 58.9" stroke="#1a1a1a" stroke-width="1.6" fill="none"/>
<path d="M286.3 67.65L289.7 67.05 M284.6 65.54L288 64.94 M282.9 63.42L286.3 62.83 M281.2 61.31L284.6 60.71 M279.5 59.2L282.9 58.6" stroke="#222" stroke-width="0.9" fill="none"/>
<g font-family="'DejaVu Sans', 'Liberation Sans', sans-serif" font-size="8.51" fill="#1e1e1e" stroke="#1e1e1e" stroke-width="0.3" text-anchor="middle"><text x="292.81" y="244.03">−1.5</text><text x="317.85" y="244.03">−1.0</text><text x="342.89" y="244.03">−0.5</text><text x="367.93" y="244.03">0.0</text><text x="392.97" y="244.03">0.5</text><text x="418.01" y="244.03">1.0</text><text x="443.05" y="244.03">1.5</text><text x="276.78" y="230.22">0.00</text><text x="276.78" y="211.14">0.25</text><text x="276.78" y="192.06">0.50</text><text x="276.78" y="172.98">0.75</text><text x="276.78" y="153.89">1.00</text><text x="276.78" y="134.81">1.25</text><text x="276.78" y="115.73">1.50</text><text x="276.78" y="96.65">1.75</text><text x="276.78" y="77.56">2.00</text><text x="367.63" y="253.15">x</text><text x="263.56" y="149.79">y</text><text x="257.35" y="37.35">z</text></g>
<g font-family="'DejaVu Sans', 'Liberation Sans', sans-serif" font-size="8.51" fill="#111" stroke="#111" stroke-width="0.25"><text x="261.66" y="52.82" transform="rotate(24 261.66 52.82)">0.04</text><text x="264.06" y="54.03" transform="rotate(24 264.06 54.03)">0.00</text><text x="266.46" y="55.23" transform="rotate(24 266.46 55.23)">0.02</text><text x="268.27" y="56.23" transform="rotate(24 268.27 56.23)">0.02</text></g>
<path d="M535.5 225.8H692.39" stroke="#444" stroke-width="1.1" fill="none"/>
<path d="M538.29 224.6V228.8 M563.49 224.6V228.8 M588.69 224.6V228.8 M613.89 224.6V228.8 M639.09 224.6V228.8 M664.29 224.6V228.8 M689.49 224.6V228.8" stroke="#222" stroke-width="1" fill="none"/>
<path d="M535.5 67.25V225.3" stroke="#444" stroke-width="1.2" fill="none"/>
<path d="M533 222.9H536.7 M533 203.73H536.7 M533 184.56H536.7 M533 165.39H536.7 M533 146.22H536.7 M533 127.06H536.7 M533 107.89H536.7 M533 88.72H536.7 M533 69.55H536.7" stroke="#222" stroke-width="1" fill="none"/>
<path d="M535.5 67.75L528.7 59" stroke="#1a1a1a" stroke-width="1.6" fill="none"/>
<path d="M532.9 67.55L536.3 66.95 M531.2 65.49L534.6 64.89 M529.5 63.42L532.9 62.83 M527.8 61.36L531.2 60.76 M526.1 59.3L529.5 58.7" stroke="#222" stroke-width="0.9" fill="none"/>
<g font-family="'DejaVu Sans', 'Liberation Sans', sans-serif" font-size="8.57" fill="#1e1e1e" stroke="#1e1e1e" stroke-width="0.3" text-anchor="middle"><text x="538.59" y="245.15">−1.5</text><text x="563.79" y="245.15">−1.0</text><text x="588.99" y="245.15">−0.5</text><text x="614.19" y="245.15">0.0</text><text x="639.39" y="245.15">0.5</text><text x="664.59" y="245.15">1.0</text><text x="689.79" y="245.15">1.5</text><text x="523.3" y="230.86">0.00</text><text x="523.3" y="211.69">0.25</text><text x="523.3" y="192.53">0.50</text><text x="523.3" y="173.36">0.75</text><text x="523.3" y="154.19">1.00</text><text x="523.3" y="135.02">1.25</text><text x="523.3" y="115.85">1.50</text><text x="523.3" y="96.68">1.75</text><text x="523.3" y="77.51">2.00</text><text x="613.89" y="254.33">x</text><text x="510" y="150.06">y</text><text x="503.75" y="37.25">z</text></g>
<g font-family="'DejaVu Sans', 'Liberation Sans', sans-serif" font-size="8.57" fill="#111" stroke="#111" stroke-width="0.25"><text x="508.08" y="52.62" transform="rotate(24 508.08 52.62)">0.04</text><text x="510.5" y="53.83" transform="rotate(24 510.5 53.83)">0.00</text><text x="512.92" y="55.03" transform="rotate(24 512.92 55.03)">0.02</text><text x="514.74" y="56.04" transform="rotate(24 514.74 56.04)">0.02</text></g>
<path d="M38.2 552H196.91" stroke="#555" stroke-width="1.1" fill="none"/>
<path d="M41.31 550.8V555 M66.76 550.8V555 M92.21 550.8V555 M117.66 550.8V555 M143.11 550.8V555 M168.56 550.8V555 M194.01 550.8V555" stroke="#222" stroke-width="1" fill="none"/>
<path d="M38.2 392.28V551.5" stroke="#555" stroke-width="1.2" fill="none"/>
<path d="M35.7 549.24H39.4 M35.7 529.91H39.4 M35.7 510.57H39.4 M35.7 491.24H39.4 M35.7 471.91H39.4 M35.7 452.58H39.4 M35.7 433.25H39.4 M35.7 413.91H39.4 M35.7 394.58H39.4" stroke="#222" stroke-width="1" fill="none"/>
<path d="M38.2 392.78L31.4 384.4" stroke="#1a1a1a" stroke-width="1.6" fill="none"/>
<path d="M35.6 392.58L39 391.98 M33.9 390.61L37.3 390.01 M32.2 388.64L35.6 388.04 M30.5 386.67L33.9 386.07 M28.8 384.7L32.2 384.1" stroke="#222" stroke-width="0.9" fill="none"/>
<g font-family="'DejaVu Sans', 'Liberation Sans', sans-serif" font-size="8.65" fill="#1e1e1e" stroke="#1e1e1e" stroke-width="0.3" text-anchor="middle"><text x="41.61" y="571.55">−1.5</text><text x="67.06" y="571.55">−1.0</text><text x="92.51" y="571.55">−0.5</text><text x="117.96" y="571.55">0.0</text><text x="143.41" y="571.55">0.5</text><text x="168.86" y="571.55">1.0</text><text x="194.31" y="571.55">1.5</text><text x="25.88" y="557.28">0.00</text><text x="25.88" y="537.95">0.25</text><text x="25.88" y="518.62">0.50</text><text x="25.88" y="499.28">0.75</text><text x="25.88" y="479.95">1.00</text><text x="25.88" y="460.62">1.25</text><text x="25.88" y="441.29">1.50</text><text x="25.88" y="421.95">1.75</text><text x="25.88" y="402.62">2.00</text><text x="117.66" y="580.81">x</text><text x="12.44" y="475.78">y</text><text x="6.13" y="362.28">z</text></g>
<g font-family="'DejaVu Sans', 'Liberation Sans', sans-serif" font-size="8.65" fill="#111" stroke="#111" stroke-width="0.25"><text x="10.51" y="377.48" transform="rotate(24 10.51 377.48)">0.04</text><text x="12.95" y="378.7" transform="rotate(24 12.95 378.7)">0.00</text><text x="15.4" y="379.92" transform="rotate(24 15.4 379.92)">0.02</text><text x="17.23" y="380.94" transform="rotate(24 17.23 380.94)">0.02</text></g>
<path d="M285.9 553.5H443.19" stroke="#333" stroke-width="1.1" fill="none"/>
<path d="M288.24 552.3V556.5 M313.58 552.3V556.5 M338.92 552.3V556.5 M364.26 552.3V556.5 M389.61 552.3V556.5 M414.95 552.3V556.5 M440.29 552.3V556.5" stroke="#222" stroke-width="1" fill="none"/>
<path d="M285.9 394.86V553" stroke="#555" stroke-width="1.2" fill="none"/>
<path d="M283.4 550.37H287.1 M283.4 531.22H287.1 M283.4 512.07H287.1 M283.4 492.92H287.1 M283.4 473.76H287.1 M283.4 454.61H287.1 M283.4 435.46H287.1 M283.4 416.31H287.1 M283.4 397.16H287.1" stroke="#222" stroke-width="1" fill="none"/>
<path d="M285.9 395.36L279.1 387.3" stroke="#1a1a1a" stroke-width="1.6" fill="none"/>
<path d="M283.3 395.16L286.7 394.56 M281.6 393.27L285 392.67 M279.9 391.38L283.3 390.78 M278.2 389.49L281.6 388.89 M276.5 387.6L279.9 387" stroke="#222" stroke-width="0.9" fill="none"/>
<g font-family="'DejaVu Sans', 'Liberation Sans', sans-serif" font-size="8.62" fill="#1e1e1e" stroke="#1e1e1e" stroke-width="0.3" text-anchor="middle"><text x="288.54" y="572.96">−1.5</text><text x="313.88" y="572.96">−1.0</text><text x="339.22" y="572.96">−0.5</text><text x="364.56" y="572.96">0.0</text><text x="389.91" y="572.96">0.5</text><text x="415.25" y="572.96">1.0</text><text x="440.59" y="572.96">1.5</text><text x="273.63" y="558.38">0.00</text><text x="273.63" y="539.23">0.25</text><text x="273.63" y="520.08">0.50</text><text x="273.63" y="500.92">0.75</text><text x="273.63" y="481.77">1.00</text><text x="273.63" y="462.62">1.25</text><text x="273.63" y="443.47">1.50</text><text x="273.63" y="424.32">1.75</text><text x="273.63" y="405.17">2.00</text><text x="364.26" y="582.19">x</text><text x="260.25" y="477.62">y</text><text x="253.97" y="364.86">z</text></g>
<g font-family="'DejaVu Sans', 'Liberation Sans', sans-serif" font-size="8.62" fill="#111" stroke="#111" stroke-width="0.25"><text x="258.33" y="380.13" transform="rotate(24 258.33 380.13)">0.04</text><text x="260.76" y="381.35" transform="rotate(24 260.76 381.35)">0.00</text><text x="263.19" y="382.56" transform="rotate(24 263.19 382.56)">0.02</text><text x="265.02" y="383.58" transform="rotate(24 265.02 383.58)">0.02</text></g>
<path d="M532.8 555.2H694.85" stroke="#222" stroke-width="1.1" fill="none"/>
<path d="M535.45 554V558.2 M561.53 554V558.2 M587.62 554V558.2 M613.7 554V558.2 M639.78 554V558.2 M665.87 554V558.2 M691.95 554V558.2" stroke="#222" stroke-width="1" fill="none"/>
<path d="M532.8 393.12V554.7" stroke="#555" stroke-width="1.2" fill="none"/>
<path d="M530.3 552.16H534 M530.3 532.57H534 M530.3 512.98H534 M530.3 493.38H534 M530.3 473.79H534 M530.3 454.2H534 M530.3 434.61H534 M530.3 415.01H534 M530.3 395.42H534" stroke="#222" stroke-width="1" fill="none"/>
<path d="M532.8 393.62L526 385.2" stroke="#1a1a1a" stroke-width="1.6" fill="none"/>
<path d="M530.2 393.42L533.6 392.82 M528.5 391.44L531.9 390.84 M526.8 389.46L530.2 388.86 M525.1 387.48L528.5 386.88 M523.4 385.5L526.8 384.9" stroke="#222" stroke-width="0.9" fill="none"/>
<g font-family="'DejaVu Sans', 'Liberation Sans', sans-serif" font-size="8.87" fill="#1e1e1e" stroke="#1e1e1e" stroke-width="0.3" text-anchor="middle"><text x="535.75" y="575.23">−1.5</text><text x="561.83" y="575.23">−1.0</text><text x="587.92" y="575.23">−0.5</text><text x="614" y="575.23">0.0</text><text x="640.08" y="575.23">0.5</text><text x="666.17" y="575.23">1.0</text><text x="692.25" y="575.23">1.5</text><text x="520.18" y="560.4">0.00</text><text x="520.18" y="540.81">0.25</text><text x="520.18" y="521.22">0.50</text><text x="520.18" y="501.62">0.75</text><text x="520.18" y="482.03">1.00</text><text x="520.18" y="462.44">1.25</text><text x="520.18" y="442.85">1.50</text><text x="520.18" y="423.25">1.75</text><text x="520.18" y="403.66">2.00</text><text x="613.7" y="584.73">x</text><text x="506.4" y="477.75">y</text><text x="499.93" y="363.12">z</text></g>
<g font-family="'DejaVu Sans', 'Liberation Sans', sans-serif" font-size="8.87" fill="#111" stroke="#111" stroke-width="0.25"><text x="504.42" y="377.89" transform="rotate(24 504.42 377.89)">0.04</text><text x="506.93" y="379.14" transform="rotate(24 506.93 379.14)">0.00</text><text x="509.43" y="380.4" transform="rotate(24 509.43 380.4)">0.02</text><text x="511.31" y="381.44" transform="rotate(24 511.31 381.44)">0.02</text></g>
<g font-family="'Liberation Serif', 'DejaVu Serif', serif" font-size="24.4" fill="#000" text-anchor="middle"><text x="104" y="20.7">Superposition</text><text x="351.8" y="20.7">Speed Limit</text><text x="598.4" y="20.7">First DBSCAN</text><text x="104" y="319.4">Registration</text><text x="351.8" y="319.4">Separate Body &amp;</text><text x="351.9" y="347">Hand</text><text x="598.5" y="319.4">Second DBSCAN</text></g>
<g font-family="'Liberation Serif', 'DejaVu Serif', serif" font-size="24" fill="#000" text-anchor="middle"><text x="104.1" y="282.8">(a)</text><text x="351.8" y="282.8">(b)</text><text x="598.4" y="282.8">(c)</text><text x="104.1" y="613.8">(d)</text><text x="351.8" y="613.8">(e)</text><text x="598.4" y="613.8">(f)</text></g></svg>
</body></html>
